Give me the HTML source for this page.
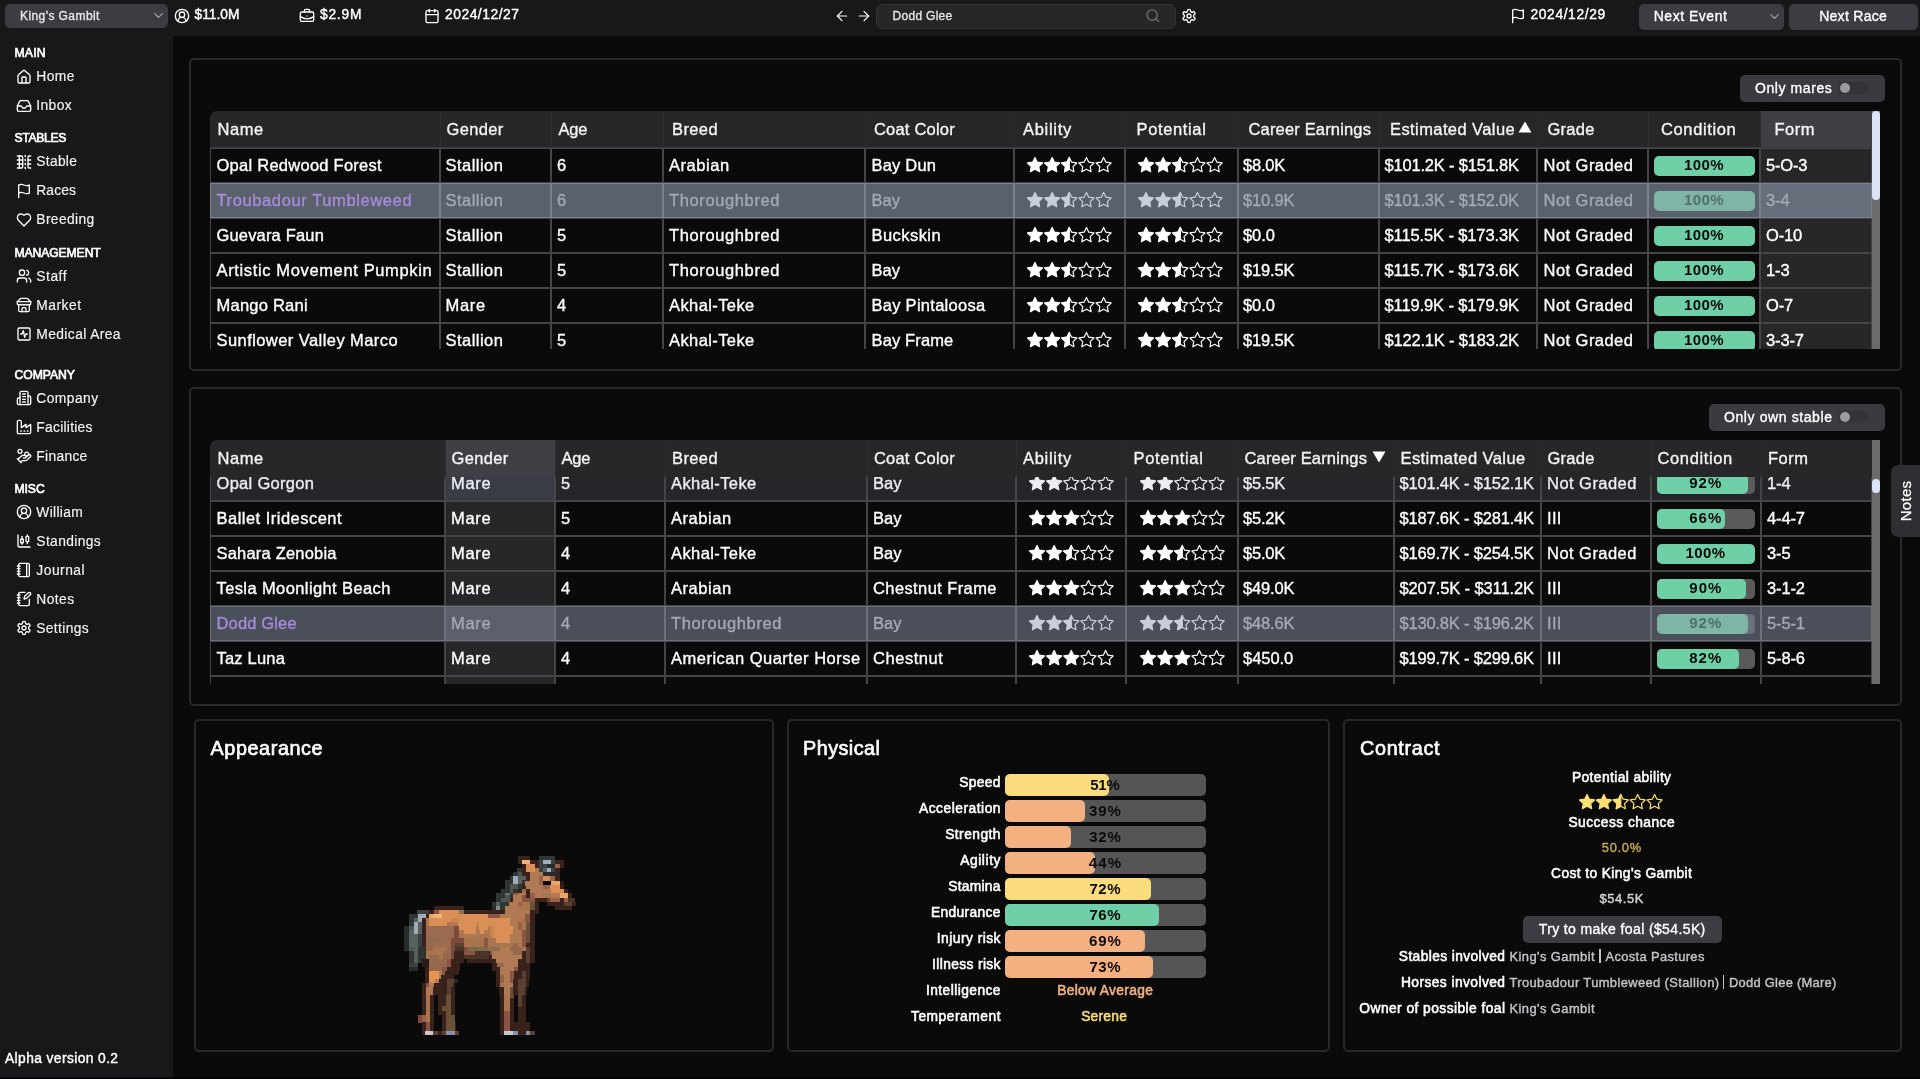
<!DOCTYPE html>
    <html><head><meta charset="utf-8"><title>Breeding</title>
    <style>
    html,body{margin:0;padding:0;background:#0a0a0a;}
    body{width:1920px;height:1079px;overflow:hidden;position:relative;font-family:"Liberation Sans",sans-serif;}
    .b{position:absolute;display:block;box-sizing:border-box;}
    .t{position:absolute;white-space:nowrap;}
    .clip{position:absolute;overflow:hidden;}
    .card{position:absolute;box-sizing:border-box;border:2px solid #28282b;border-radius:5px;}
    .c{position:absolute;box-sizing:border-box;border:1px solid #454548;}
    .cs{border-color:#79818e;}
    </style></head><body><div id="root" style="position:absolute;left:0;top:0;width:1920px;height:1079px;will-change:transform;filter:blur(0.35px)">
    
<div class="b" style="left:0px;top:0px;width:1920px;height:36px;background:#18181b;"></div>
<div class="b" style="left:0px;top:36px;width:173px;height:1043px;background:#18181b;"></div>
<div class="b" style="left:5px;top:4px;width:163px;height:24px;background:#3c3c43;border-radius:5px;"></div>
<div class="t " style="top:10px;font-size:12px;line-height:12px;color:#e8e8ea;letter-spacing:0.424px;-webkit-text-stroke:0.35px #e8e8ea;left:20px;">King&#x27;s Gambit</div>
<svg class="b" style="left:151px;top:8px" width="15" height="15" viewBox="0 0 24 24" fill="none" stroke="#a1a1aa" stroke-width="2" stroke-linecap="round" stroke-linejoin="round"><path d="m6 9 6 6 6-6"/></svg>
<svg class="b" style="left:173.5px;top:8px" width="16" height="16" viewBox="0 0 24 24" fill="none" stroke="#fff" stroke-width="2" stroke-linecap="round" stroke-linejoin="round"><path d="M18 20a6 6 0 0 0-12 0"/><circle cx="12" cy="10" r="4"/><circle cx="12" cy="12" r="10"/></svg>
<div class="t " style="top:8px;font-size:13.8px;line-height:13.8px;color:#fff;letter-spacing:0.001px;-webkit-text-stroke:0.4px #fff;left:194.5px;">$11.0M</div>
<svg class="b" style="left:299px;top:7.5px" width="16" height="16" viewBox="0 0 24 24" fill="none" stroke="#fff" stroke-width="2" stroke-linecap="round" stroke-linejoin="round"><path d="M12 12h.01"/><path d="M16 6V4a2 2 0 0 0-2-2h-4a2 2 0 0 0-2 2v2"/><path d="M22 13a18.150 18.150 0 0 1-20 0"/><rect width="20" height="14" x="2" y="6" rx="2"/></svg>
<div class="t " style="top:8px;font-size:13.8px;line-height:13.8px;color:#fff;letter-spacing:0.757px;-webkit-text-stroke:0.4px #fff;left:320px;">$2.9M</div>
<svg class="b" style="left:424px;top:8px" width="16" height="16" viewBox="0 0 24 24" fill="none" stroke="#fff" stroke-width="2" stroke-linecap="round" stroke-linejoin="round"><path d="M8 2v4"/><path d="M16 2v4"/><rect width="18" height="18" x="3" y="4" rx="2"/><path d="M3 10h18"/></svg>
<div class="t " style="top:8px;font-size:13.8px;line-height:13.8px;color:#fff;letter-spacing:0.54px;-webkit-text-stroke:0.4px #fff;left:445px;">2024/12/27</div>
<svg class="b" style="left:833.5px;top:8px" width="16" height="16" viewBox="0 0 24 24" fill="none" stroke="#fff" stroke-width="1.8" stroke-linecap="round" stroke-linejoin="round"><path d="m12 19-7-7 7-7"/><path d="M19 12H5"/></svg>
<svg class="b" style="left:855.5px;top:8px" width="16" height="16" viewBox="0 0 24 24" fill="none" stroke="#fff" stroke-width="1.8" stroke-linecap="round" stroke-linejoin="round"><path d="M5 12h14"/><path d="m12 5 7 7-7 7"/></svg>
<div class="b" style="left:876px;top:3.7px;width:300px;height:25px;background:#27272a;border-radius:6px;border:1px solid #323236;"></div>
<div class="t " style="top:10px;font-size:12px;line-height:12px;color:#e4e4e7;letter-spacing:0.299px;-webkit-text-stroke:0.35px #e4e4e7;left:892.5px;">Dodd Glee</div>
<svg class="b" style="left:1144.5px;top:7.5px" width="15.5" height="15.5" viewBox="0 0 24 24" fill="none" stroke="#71717a" stroke-width="2" stroke-linecap="round" stroke-linejoin="round"><circle cx="11" cy="11" r="8"/><path d="m21 21-4.300-4.300"/></svg>
<svg class="b" style="left:1181px;top:8px" width="16" height="16" viewBox="0 0 24 24" fill="none" stroke="#fff" stroke-width="2" stroke-linecap="round" stroke-linejoin="round"><path d="M12.220 2h-.440a2 2 0 0 0-2 2v.180a2 2 0 0 1-1 1.730l-.430.250a2 2 0 0 1-2 0l-.150-.080a2 2 0 0 0-2.730.730l-.220.380a2 2 0 0 0 .730 2.730l.150.100a2 2 0 0 1 1 1.720v.510a2 2 0 0 1-1 1.740l-.150.090a2 2 0 0 0-.730 2.730l.220.380a2 2 0 0 0 2.730.730l.150-.080a2 2 0 0 1 2 0l.430.250a2 2 0 0 1 1 1.730V20a2 2 0 0 0 2 2h.440a2 2 0 0 0 2-2v-.180a2 2 0 0 1 1-1.730l.430-.250a2 2 0 0 1 2 0l.150.080a2 2 0 0 0 2.730-.730l.220-.390a2 2 0 0 0-.730-2.730l-.150-.080a2 2 0 0 1-1-1.740v-.500a2 2 0 0 1 1-1.740l.150-.090a2 2 0 0 0 .730-2.730l-.220-.380a2 2 0 0 0-2.730-.730l-.150.080a2 2 0 0 1-2 0l-.430-.250a2 2 0 0 1-1-1.730V4a2 2 0 0 0-2-2z"/><circle cx="12" cy="12" r="3"/></svg>
<svg class="b" style="left:1510px;top:8px" width="16" height="16" viewBox="0 0 24 24" fill="none" stroke="#fff" stroke-width="2" stroke-linecap="round" stroke-linejoin="round"><path d="M4 15s1-1 4-1 5 2 8 2 4-1 4-1V3s-1 1-4 1-5-2-8-2-4 1-4 1z"/><line x1="4" x2="4" y1="22" y2="15"/></svg>
<div class="t " style="top:8px;font-size:13.8px;line-height:13.8px;color:#fff;letter-spacing:0.619px;-webkit-text-stroke:0.4px #fff;left:1530.5px;">2024/12/29</div>
<div class="b" style="left:1638.5px;top:3.5px;width:145px;height:26.5px;background:#3c3c43;border-radius:5px;"></div>
<div class="t " style="top:9px;font-size:14px;line-height:14px;color:#fff;letter-spacing:0.523px;-webkit-text-stroke:0.35px #fff;left:1653.7px;">Next Event</div>
<svg class="b" style="left:1766.5px;top:8.5px" width="15" height="15" viewBox="0 0 24 24" fill="none" stroke="#a1a1aa" stroke-width="2" stroke-linecap="round" stroke-linejoin="round"><path d="m6 9 6 6 6-6"/></svg>
<div class="b" style="left:1789px;top:3.5px;width:128.5px;height:26.5px;background:#3c3c43;border-radius:5px;"></div>
<div class="t " style="top:9px;font-size:14px;line-height:14px;color:#fff;letter-spacing:0.293px;-webkit-text-stroke:0.35px #fff;left:1453.15px;width:800px;text-align:center;">Next Race</div>
<div class="t " style="top:47px;font-size:12.2px;line-height:12.2px;color:#fff;letter-spacing:0.2px;-webkit-text-stroke:0.65px #fff;left:14.5px;">MAIN</div>
<svg class="b" style="left:15.85px;top:68.8px" width="16" height="16" viewBox="0 0 24 24" fill="none" stroke="#fff" stroke-width="2" stroke-linecap="round" stroke-linejoin="round"><path d="M15 21v-8a1 1 0 0 0-1-1h-4a1 1 0 0 0-1 1v8"/><path d="M3 10a2 2 0 0 1 .709-1.528l7-5.999a2 2 0 0 1 2.582 0l7 5.999A2 2 0 0 1 21 10v9a2 2 0 0 1-2 2H5a2 2 0 0 1-2-2z"/></svg>
<div class="t " style="top:70px;font-size:13.8px;line-height:13.8px;color:#f4f4f5;letter-spacing:0.43px;-webkit-text-stroke:0.15px #f4f4f5;left:36.3px;">Home</div>
<svg class="b" style="left:15.85px;top:97.8px" width="16" height="16" viewBox="0 0 24 24" fill="none" stroke="#fff" stroke-width="2" stroke-linecap="round" stroke-linejoin="round"><polyline points="22 12 16 12 14 15 10 15 8 12 2 12"/><path d="M5.45 5.11 2 12v6a2 2 0 0 0 2 2h16a2 2 0 0 0 2-2v-6l-3.45-6.89A2 2 0 0 0 16.76 4H7.24a2 2 0 0 0-1.79 1.11z"/></svg>
<div class="t " style="top:99px;font-size:13.8px;line-height:13.8px;color:#f4f4f5;letter-spacing:0.385px;-webkit-text-stroke:0.15px #f4f4f5;left:36.3px;">Inbox</div>
<div class="t " style="top:132px;font-size:12.2px;line-height:12.2px;color:#fff;letter-spacing:-0.34px;-webkit-text-stroke:0.65px #fff;left:14.5px;">STABLES</div>
<svg class="b" style="left:15.85px;top:153.8px" width="16" height="16" viewBox="0 0 24 24" fill="none" stroke="#fff" stroke-width="2" stroke-linecap="round" stroke-linejoin="round"><path d="M14 14v2"/><path d="M14 20v2"/><path d="M14 2v2"/><path d="M14 8v2"/><path d="M2 15h8"/><path d="M2 3h6a2 2 0 0 1 2 2v14a2 2 0 0 1-2 2H2"/><path d="M2 9h8"/><path d="M22 15h-4"/><path d="M22 3h-2a2 2 0 0 0-2 2v14a2 2 0 0 0 2 2h2"/><path d="M22 9h-4"/><path d="M5 3v18"/></svg>
<div class="t " style="top:155px;font-size:13.8px;line-height:13.8px;color:#f4f4f5;letter-spacing:0.292px;-webkit-text-stroke:0.15px #f4f4f5;left:36.3px;">Stable</div>
<svg class="b" style="left:15.85px;top:182.8px" width="16" height="16" viewBox="0 0 24 24" fill="none" stroke="#fff" stroke-width="2" stroke-linecap="round" stroke-linejoin="round"><path d="M4 15s1-1 4-1 5 2 8 2 4-1 4-1V3s-1 1-4 1-5-2-8-2-4 1-4 1z"/><line x1="4" x2="4" y1="22" y2="15"/></svg>
<div class="t " style="top:184px;font-size:13.8px;line-height:13.8px;color:#f4f4f5;letter-spacing:0.105px;-webkit-text-stroke:0.15px #f4f4f5;left:36.3px;">Races</div>
<svg class="b" style="left:15.85px;top:211.8px" width="16" height="16" viewBox="0 0 24 24" fill="none" stroke="#fff" stroke-width="2" stroke-linecap="round" stroke-linejoin="round"><path d="M19 14c1.49-1.46 3-3.21 3-5.5A5.5 5.5 0 0 0 16.5 3c-1.76 0-3 .5-4.5 2-1.5-1.500-2.740-2-4.500-2A5.500 5.500 0 0 0 2 8.500c0 2.300 1.500 4.050 3 5.500l7 7Z"/></svg>
<div class="t " style="top:213px;font-size:13.8px;line-height:13.8px;color:#f4f4f5;letter-spacing:0.382px;-webkit-text-stroke:0.15px #f4f4f5;left:36.3px;">Breeding</div>
<div class="t " style="top:247px;font-size:12.2px;line-height:12.2px;color:#fff;letter-spacing:-0.122px;-webkit-text-stroke:0.65px #fff;left:14.5px;">MANAGEMENT</div>
<svg class="b" style="left:15.85px;top:268.3px" width="16" height="16" viewBox="0 0 24 24" fill="none" stroke="#fff" stroke-width="2" stroke-linecap="round" stroke-linejoin="round"><path d="M16 21v-2a4 4 0 0 0-4-4H6a4 4 0 0 0-4 4v2"/><circle cx="9" cy="7" r="4"/><path d="M22 21v-2a4 4 0 0 0-3-3.870"/><path d="M16 3.130a4 4 0 0 1 0 7.750"/></svg>
<div class="t " style="top:270px;font-size:13.8px;line-height:13.8px;color:#f4f4f5;letter-spacing:0.525px;-webkit-text-stroke:0.15px #f4f4f5;left:36.3px;">Staff</div>
<svg class="b" style="left:15.85px;top:297.3px" width="16" height="16" viewBox="0 0 24 24" fill="none" stroke="#fff" stroke-width="2" stroke-linecap="round" stroke-linejoin="round"><path d="m2 7 4.410-4.410A2 2 0 0 1 7.830 2h8.340a2 2 0 0 1 1.420.590L22 7"/><path d="M4 12v8a2 2 0 0 0 2 2h12a2 2 0 0 0 2-2v-8"/><path d="M15 22v-4a2 2 0 0 0-2-2h-2a2 2 0 0 0-2 2v4"/><path d="M2 7h20"/><path d="M22 7v3a2 2 0 0 1-2 2a2.700 2.700 0 0 1-1.590-.630.700.700 0 0 0-.820 0A2.700 2.700 0 0 1 16 12a2.700 2.700 0 0 1-1.590-.630.700.700 0 0 0-.820 0A2.700 2.700 0 0 1 12 12a2.700 2.700 0 0 1-1.590-.630.700.700 0 0 0-.820 0A2.700 2.700 0 0 1 8 12a2.700 2.700 0 0 1-1.590-.630.700.700 0 0 0-.820 0A2.700 2.700 0 0 1 4 12a2 2 0 0 1-2-2V7"/></svg>
<div class="t " style="top:299px;font-size:13.8px;line-height:13.8px;color:#f4f4f5;letter-spacing:0.52px;-webkit-text-stroke:0.15px #f4f4f5;left:36.3px;">Market</div>
<svg class="b" style="left:15.85px;top:326.3px" width="16" height="16" viewBox="0 0 24 24" fill="none" stroke="#fff" stroke-width="2" stroke-linecap="round" stroke-linejoin="round"><rect width="18" height="18" x="3" y="3" rx="2"/><path d="M17 12h-2l-2 5-2-10-2 5H7"/></svg>
<div class="t " style="top:328px;font-size:13.8px;line-height:13.8px;color:#f4f4f5;letter-spacing:0.407px;-webkit-text-stroke:0.15px #f4f4f5;left:36.3px;">Medical Area</div>
<div class="t " style="top:369px;font-size:12.2px;line-height:12.2px;color:#fff;letter-spacing:-0.038px;-webkit-text-stroke:0.65px #fff;left:14.5px;">COMPANY</div>
<svg class="b" style="left:15.85px;top:390.3px" width="16" height="16" viewBox="0 0 24 24" fill="none" stroke="#fff" stroke-width="2" stroke-linecap="round" stroke-linejoin="round"><path d="M6 22V4a2 2 0 0 1 2-2h8a2 2 0 0 1 2 2v18Z"/><path d="M6 12H4a2 2 0 0 0-2 2v6a2 2 0 0 0 2 2h2"/><path d="M18 9h2a2 2 0 0 1 2 2v9a2 2 0 0 1-2 2h-2"/><path d="M10 6h4"/><path d="M10 10h4"/><path d="M10 14h4"/><path d="M10 18h4"/></svg>
<div class="t " style="top:392px;font-size:13.8px;line-height:13.8px;color:#f4f4f5;letter-spacing:0.459px;-webkit-text-stroke:0.15px #f4f4f5;left:36.3px;">Company</div>
<svg class="b" style="left:15.85px;top:419.3px" width="16" height="16" viewBox="0 0 24 24" fill="none" stroke="#fff" stroke-width="2" stroke-linecap="round" stroke-linejoin="round"><path d="M2 20a2 2 0 0 0 2 2h16a2 2 0 0 0 2-2V8l-7 5V8l-7 5V4a2 2 0 0 0-2-2H4a2 2 0 0 0-2 2Z"/><path d="M17 18h1"/><path d="M12 18h1"/><path d="M7 18h1"/></svg>
<div class="t " style="top:421px;font-size:13.8px;line-height:13.8px;color:#f4f4f5;letter-spacing:0.279px;-webkit-text-stroke:0.15px #f4f4f5;left:36.3px;">Facilities</div>
<svg class="b" style="left:15.85px;top:448.3px" width="16" height="16" viewBox="0 0 24 24" fill="none" stroke="#fff" stroke-width="2" stroke-linecap="round" stroke-linejoin="round"><path d="M11 15h2a2 2 0 1 0 0-4h-3c-.600 0-1.100.200-1.400.600L3 17"/><path d="m7 21 1.600-1.400c.300-.400.800-.600 1.400-.600h4c1.100 0 2.100-.400 2.800-1.200l4.600-4.400a2 2 0 0 0-2.750-2.910l-4.200 3.900"/><path d="m2 16 6 6"/><circle cx="16" cy="9" r="2.900"/><circle cx="6" cy="5" r="3"/></svg>
<div class="t " style="top:450px;font-size:13.8px;line-height:13.8px;color:#f4f4f5;letter-spacing:0.315px;-webkit-text-stroke:0.15px #f4f4f5;left:36.3px;">Finance</div>
<div class="t " style="top:483px;font-size:12.2px;line-height:12.2px;color:#fff;letter-spacing:-0.09px;-webkit-text-stroke:0.65px #fff;left:14.5px;">MISC</div>
<svg class="b" style="left:15.85px;top:504.3px" width="16" height="16" viewBox="0 0 24 24" fill="none" stroke="#fff" stroke-width="2" stroke-linecap="round" stroke-linejoin="round"><path d="M18 20a6 6 0 0 0-12 0"/><circle cx="12" cy="10" r="4"/><circle cx="12" cy="12" r="10"/></svg>
<div class="t " style="top:506px;font-size:13.8px;line-height:13.8px;color:#f4f4f5;letter-spacing:0.312px;-webkit-text-stroke:0.15px #f4f4f5;left:36.3px;">William</div>
<svg class="b" style="left:15.85px;top:533.3px" width="16" height="16" viewBox="0 0 24 24" fill="none" stroke="#fff" stroke-width="2" stroke-linecap="round" stroke-linejoin="round"><path d="M9 5v4"/><rect width="4" height="6" x="7" y="9" rx="1"/><path d="M9 15v2"/><path d="M17 3v2"/><rect width="4" height="8" x="15" y="5" rx="1"/><path d="M17 13v3"/><path d="M3 3v16a2 2 0 0 0 2 2h16"/></svg>
<div class="t " style="top:535px;font-size:13.8px;line-height:13.8px;color:#f4f4f5;letter-spacing:0.381px;-webkit-text-stroke:0.15px #f4f4f5;left:36.3px;">Standings</div>
<svg class="b" style="left:15.85px;top:562.3px" width="16" height="16" viewBox="0 0 24 24" fill="none" stroke="#fff" stroke-width="2" stroke-linecap="round" stroke-linejoin="round"><path d="M2 6h4"/><path d="M2 10h4"/><path d="M2 14h4"/><path d="M2 18h4"/><rect width="16" height="20" x="4" y="2" rx="2"/><path d="M16 2v20"/></svg>
<div class="t " style="top:564px;font-size:13.8px;line-height:13.8px;color:#f4f4f5;letter-spacing:0.506px;-webkit-text-stroke:0.15px #f4f4f5;left:36.3px;">Journal</div>
<svg class="b" style="left:15.85px;top:591.3px" width="16" height="16" viewBox="0 0 24 24" fill="none" stroke="#fff" stroke-width="2" stroke-linecap="round" stroke-linejoin="round"><path d="M13.400 2H6a2 2 0 0 0-2 2v16a2 2 0 0 0 2 2h12a2 2 0 0 0 2-2v-7.400"/><path d="M2 6h4"/><path d="M2 10h4"/><path d="M2 14h4"/><path d="M2 18h4"/><path d="M21.378 5.626a1 1 0 1 0-3.004-3.004l-5.010 5.012a2 2 0 0 0-.506.854l-.837 2.870a.500.500 0 0 0 .620.620l2.870-.837a2 2 0 0 0 .854-.506z"/></svg>
<div class="t " style="top:593px;font-size:13.8px;line-height:13.8px;color:#f4f4f5;letter-spacing:0.44px;-webkit-text-stroke:0.15px #f4f4f5;left:36.3px;">Notes</div>
<svg class="b" style="left:15.85px;top:620.3px" width="16" height="16" viewBox="0 0 24 24" fill="none" stroke="#fff" stroke-width="2" stroke-linecap="round" stroke-linejoin="round"><path d="M12.220 2h-.440a2 2 0 0 0-2 2v.180a2 2 0 0 1-1 1.730l-.430.250a2 2 0 0 1-2 0l-.150-.080a2 2 0 0 0-2.730.730l-.220.380a2 2 0 0 0 .730 2.730l.150.100a2 2 0 0 1 1 1.720v.510a2 2 0 0 1-1 1.740l-.150.090a2 2 0 0 0-.730 2.730l.220.380a2 2 0 0 0 2.730.730l.150-.080a2 2 0 0 1 2 0l.430.250a2 2 0 0 1 1 1.730V20a2 2 0 0 0 2 2h.440a2 2 0 0 0 2-2v-.180a2 2 0 0 1 1-1.730l.430-.250a2 2 0 0 1 2 0l.150.080a2 2 0 0 0 2.730-.730l.220-.390a2 2 0 0 0-.730-2.730l-.150-.080a2 2 0 0 1-1-1.740v-.500a2 2 0 0 1 1-1.740l.150-.090a2 2 0 0 0 .730-2.730l-.220-.380a2 2 0 0 0-2.730-.730l-.150.080a2 2 0 0 1-2 0l-.430-.250a2 2 0 0 1-1-1.730V4a2 2 0 0 0-2-2z"/><circle cx="12" cy="12" r="3"/></svg>
<div class="t " style="top:622px;font-size:13.8px;line-height:13.8px;color:#f4f4f5;letter-spacing:0.349px;-webkit-text-stroke:0.15px #f4f4f5;left:36.3px;">Settings</div>
<div class="t " style="top:1052px;font-size:13.8px;line-height:13.8px;color:#fff;letter-spacing:0.402px;-webkit-text-stroke:0.4px #fff;left:5px;">Alpha version 0.2</div>
<div class="card" style="left:189px;top:58px;width:1713px;height:313px"></div>
<div class="card" style="left:189px;top:387px;width:1713px;height:319px"></div>
<div class="card" style="left:194px;top:719px;width:580px;height:333px"></div>
<div class="card" style="left:787px;top:719px;width:543px;height:333px"></div>
<div class="card" style="left:1343px;top:719px;width:559px;height:333px"></div>
<div class="b" style="left:1739.5px;top:74.5px;width:145.5px;height:27px;background:#3a3a40;border-radius:5px;"></div><div class="t " style="top:81px;font-size:14px;line-height:14px;color:#fff;letter-spacing:0.578px;-webkit-text-stroke:0.35px #fff;left:1755px;">Only mares</div><div class="b" style="left:1838.0px;top:81.5px;width:29.5px;height:12.5px;background:#333338;border-radius:6.5px;"></div><div class="b" style="left:1840.0px;top:82.7px;width:10.2px;height:10.2px;background:#9b9b9b;border-radius:5.1px;"></div>
<div class="b" style="left:1708.5px;top:403.5px;width:176.5px;height:27px;background:#3a3a40;border-radius:5px;"></div><div class="t " style="top:410px;font-size:14px;line-height:14px;color:#fff;letter-spacing:0.599px;-webkit-text-stroke:0.35px #fff;left:1724px;">Only own stable</div><div class="b" style="left:1838.0px;top:410.5px;width:29.5px;height:12.5px;background:#333338;border-radius:6.5px;"></div><div class="b" style="left:1840.0px;top:411.7px;width:10.2px;height:10.2px;background:#9b9b9b;border-radius:5.1px;"></div>
<div class="clip" style="left:210px;top:111px;width:1662px;height:237.5px"><div class="c" style="left:0px;top:37px;width:230px;height:35px;background:#0a0a0a"></div><div class="c" style="left:230px;top:37px;width:111px;height:35px;background:#0a0a0a"></div><div class="c" style="left:341px;top:37px;width:112px;height:35px;background:#0a0a0a"></div><div class="c" style="left:453px;top:37px;width:202px;height:35px;background:#0a0a0a"></div><div class="c" style="left:655px;top:37px;width:149px;height:35px;background:#0a0a0a"></div><div class="c" style="left:804px;top:37px;width:111px;height:35px;background:#0a0a0a"></div><div class="c" style="left:915px;top:37px;width:113px;height:35px;background:#0a0a0a"></div><div class="c" style="left:1028px;top:37px;width:141px;height:35px;background:#0a0a0a"></div><div class="c" style="left:1169px;top:37px;width:158px;height:35px;background:#0a0a0a"></div><div class="c" style="left:1327px;top:37px;width:111px;height:35px;background:#0a0a0a"></div><div class="c" style="left:1438px;top:37px;width:112px;height:35px;background:#0a0a0a"></div><div class="c" style="left:1550px;top:37px;width:112px;height:35px;background:#27272a"></div><div class="t " style="top:46px;font-size:16.5px;line-height:16.5px;color:#fff;letter-spacing:0.258px;-webkit-text-stroke:0.35px #fff;left:6.5px;">Opal Redwood Forest</div><div class="t " style="top:46px;font-size:16.5px;line-height:16.5px;color:#fff;letter-spacing:0.464px;-webkit-text-stroke:0.35px #fff;left:235.5px;">Stallion</div><div class="t " style="top:46px;font-size:16.5px;line-height:16.5px;color:#fff;letter-spacing:-0.01px;-webkit-text-stroke:0.35px #fff;left:347px;">6</div><div class="t " style="top:46px;font-size:16.5px;line-height:16.5px;color:#fff;letter-spacing:0.554px;-webkit-text-stroke:0.35px #fff;left:459px;">Arabian</div><div class="t " style="top:46px;font-size:16.5px;line-height:16.5px;color:#fff;letter-spacing:0.206px;-webkit-text-stroke:0.35px #fff;left:661.5px;">Bay Dun</div><svg class="b" style="left:816.0px;top:45.400000000000006px" width="86.60" height="18" viewBox="0 0 115.467 24" fill="none" stroke="#fff" stroke-width="1.6" stroke-linejoin="round"><polygon transform="translate(0.00,0)" points="12 2 15.09 8.26 22 9.27 17 14.14 18.18 21.02 12 17.77 5.82 21.02 7 14.14 2 9.27 8.91 8.26" fill="#fff"/><polygon transform="translate(22.87,0)" points="12 2 15.09 8.26 22 9.27 17 14.14 18.18 21.02 12 17.77 5.82 21.02 7 14.14 2 9.27 8.91 8.26" fill="#fff"/><polygon transform="translate(45.73,0)" points="12 2 15.09 8.26 22 9.27 17 14.14 18.18 21.02 12 17.77 5.82 21.02 7 14.14 2 9.27 8.91 8.26"/><polygon transform="translate(45.73,0)" points="12 2 12 17.77 5.82 21.02 7 14.14 2 9.27 8.91 8.26" fill="#fff"/><polygon transform="translate(68.60,0)" points="12 2 15.09 8.26 22 9.27 17 14.14 18.18 21.02 12 17.77 5.82 21.02 7 14.14 2 9.27 8.91 8.26"/><polygon transform="translate(91.47,0)" points="12 2 15.09 8.26 22 9.27 17 14.14 18.18 21.02 12 17.77 5.82 21.02 7 14.14 2 9.27 8.91 8.26"/></svg><svg class="b" style="left:927.2px;top:45.400000000000006px" width="86.60" height="18" viewBox="0 0 115.467 24" fill="none" stroke="#fff" stroke-width="1.6" stroke-linejoin="round"><polygon transform="translate(0.00,0)" points="12 2 15.09 8.26 22 9.27 17 14.14 18.18 21.02 12 17.77 5.82 21.02 7 14.14 2 9.27 8.91 8.26" fill="#fff"/><polygon transform="translate(22.87,0)" points="12 2 15.09 8.26 22 9.27 17 14.14 18.18 21.02 12 17.77 5.82 21.02 7 14.14 2 9.27 8.91 8.26" fill="#fff"/><polygon transform="translate(45.73,0)" points="12 2 15.09 8.26 22 9.27 17 14.14 18.18 21.02 12 17.77 5.82 21.02 7 14.14 2 9.27 8.91 8.26"/><polygon transform="translate(45.73,0)" points="12 2 12 17.77 5.82 21.02 7 14.14 2 9.27 8.91 8.26" fill="#fff"/><polygon transform="translate(68.60,0)" points="12 2 15.09 8.26 22 9.27 17 14.14 18.18 21.02 12 17.77 5.82 21.02 7 14.14 2 9.27 8.91 8.26"/><polygon transform="translate(91.47,0)" points="12 2 15.09 8.26 22 9.27 17 14.14 18.18 21.02 12 17.77 5.82 21.02 7 14.14 2 9.27 8.91 8.26"/></svg><div class="t " style="top:46px;font-size:16.5px;line-height:16.5px;color:#fff;letter-spacing:-0.2px;-webkit-text-stroke:0.35px #fff;left:1033px;">$8.0K</div><div class="t " style="top:46px;font-size:16.5px;line-height:16.5px;color:#fff;letter-spacing:-0.189px;-webkit-text-stroke:0.35px #fff;left:1174.5px;">$101.2K - $151.8K</div><div class="t " style="top:46px;font-size:16.5px;line-height:16.5px;color:#fff;letter-spacing:0.46px;-webkit-text-stroke:0.35px #fff;left:1333.5px;">Not Graded</div><div class="b" style="left:1444px;top:45px;width:101px;height:19.5px;background:#6fcfa6;border-radius:5px;"></div><div class="t " style="top:46px;font-size:15px;line-height:15px;color:#0a0a0a;font-weight:bold;letter-spacing:0.365px;left:1093.98px;width:800px;text-align:center;">100%</div><div class="t " style="top:46px;font-size:16.5px;line-height:16.5px;color:#fff;letter-spacing:-0.182px;-webkit-text-stroke:0.35px #fff;left:1556px;">5-O-3</div><div class="c" style="left:0px;top:72px;width:230px;height:35px;background:#5a616d;border-color:#7b828e"></div><div class="c" style="left:230px;top:72px;width:111px;height:35px;background:#5a616d;border-color:#7b828e"></div><div class="c" style="left:341px;top:72px;width:112px;height:35px;background:#5a616d;border-color:#7b828e"></div><div class="c" style="left:453px;top:72px;width:202px;height:35px;background:#5a616d;border-color:#7b828e"></div><div class="c" style="left:655px;top:72px;width:149px;height:35px;background:#5a616d;border-color:#7b828e"></div><div class="c" style="left:804px;top:72px;width:111px;height:35px;background:#5a616d;border-color:#7b828e"></div><div class="c" style="left:915px;top:72px;width:113px;height:35px;background:#5a616d;border-color:#7b828e"></div><div class="c" style="left:1028px;top:72px;width:141px;height:35px;background:#5a616d;border-color:#7b828e"></div><div class="c" style="left:1169px;top:72px;width:158px;height:35px;background:#5a616d;border-color:#7b828e"></div><div class="c" style="left:1327px;top:72px;width:111px;height:35px;background:#5a616d;border-color:#7b828e"></div><div class="c" style="left:1438px;top:72px;width:112px;height:35px;background:#5a616d;border-color:#7b828e"></div><div class="c" style="left:1550px;top:72px;width:112px;height:35px;background:#676e7b;border-color:#7b828e"></div><div class="t " style="top:81px;font-size:16.5px;line-height:16.5px;color:#a78bda;letter-spacing:0.613px;-webkit-text-stroke:0.35px #a78bda;left:6.5px;">Troubadour Tumbleweed</div><div class="t " style="top:81px;font-size:16.5px;line-height:16.5px;color:#a4a9b4;letter-spacing:0.464px;-webkit-text-stroke:0.35px #a4a9b4;left:235.5px;">Stallion</div><div class="t " style="top:81px;font-size:16.5px;line-height:16.5px;color:#a4a9b4;letter-spacing:-0.01px;-webkit-text-stroke:0.35px #a4a9b4;left:347px;">6</div><div class="t " style="top:81px;font-size:16.5px;line-height:16.5px;color:#a4a9b4;letter-spacing:0.62px;-webkit-text-stroke:0.35px #a4a9b4;left:459px;">Thoroughbred</div><div class="t " style="top:81px;font-size:16.5px;line-height:16.5px;color:#a4a9b4;letter-spacing:0.005px;-webkit-text-stroke:0.35px #a4a9b4;left:661.5px;">Bay</div><svg class="b" style="left:816.0px;top:80.4px" width="86.60" height="18" viewBox="0 0 115.467 24" fill="none" stroke="#c9ced8" stroke-width="1.6" stroke-linejoin="round"><polygon transform="translate(0.00,0)" points="12 2 15.09 8.26 22 9.27 17 14.14 18.18 21.02 12 17.77 5.82 21.02 7 14.14 2 9.27 8.91 8.26" fill="#c9ced8"/><polygon transform="translate(22.87,0)" points="12 2 15.09 8.26 22 9.27 17 14.14 18.18 21.02 12 17.77 5.82 21.02 7 14.14 2 9.27 8.91 8.26" fill="#c9ced8"/><polygon transform="translate(45.73,0)" points="12 2 15.09 8.26 22 9.27 17 14.14 18.18 21.02 12 17.77 5.82 21.02 7 14.14 2 9.27 8.91 8.26"/><polygon transform="translate(45.73,0)" points="12 2 12 17.77 5.82 21.02 7 14.14 2 9.27 8.91 8.26" fill="#c9ced8"/><polygon transform="translate(68.60,0)" points="12 2 15.09 8.26 22 9.27 17 14.14 18.18 21.02 12 17.77 5.82 21.02 7 14.14 2 9.27 8.91 8.26"/><polygon transform="translate(91.47,0)" points="12 2 15.09 8.26 22 9.27 17 14.14 18.18 21.02 12 17.77 5.82 21.02 7 14.14 2 9.27 8.91 8.26"/></svg><svg class="b" style="left:927.2px;top:80.4px" width="86.60" height="18" viewBox="0 0 115.467 24" fill="none" stroke="#c9ced8" stroke-width="1.6" stroke-linejoin="round"><polygon transform="translate(0.00,0)" points="12 2 15.09 8.26 22 9.27 17 14.14 18.18 21.02 12 17.77 5.82 21.02 7 14.14 2 9.27 8.91 8.26" fill="#c9ced8"/><polygon transform="translate(22.87,0)" points="12 2 15.09 8.26 22 9.27 17 14.14 18.18 21.02 12 17.77 5.82 21.02 7 14.14 2 9.27 8.91 8.26" fill="#c9ced8"/><polygon transform="translate(45.73,0)" points="12 2 15.09 8.26 22 9.27 17 14.14 18.18 21.02 12 17.77 5.82 21.02 7 14.14 2 9.27 8.91 8.26"/><polygon transform="translate(45.73,0)" points="12 2 12 17.77 5.82 21.02 7 14.14 2 9.27 8.91 8.26" fill="#c9ced8"/><polygon transform="translate(68.60,0)" points="12 2 15.09 8.26 22 9.27 17 14.14 18.18 21.02 12 17.77 5.82 21.02 7 14.14 2 9.27 8.91 8.26"/><polygon transform="translate(91.47,0)" points="12 2 15.09 8.26 22 9.27 17 14.14 18.18 21.02 12 17.77 5.82 21.02 7 14.14 2 9.27 8.91 8.26"/></svg><div class="t " style="top:81px;font-size:16.5px;line-height:16.5px;color:#a4a9b4;letter-spacing:-0.168px;-webkit-text-stroke:0.35px #a4a9b4;left:1033px;">$10.9K</div><div class="t " style="top:81px;font-size:16.5px;line-height:16.5px;color:#a4a9b4;letter-spacing:-0.189px;-webkit-text-stroke:0.35px #a4a9b4;left:1174.5px;">$101.3K - $152.0K</div><div class="t " style="top:81px;font-size:16.5px;line-height:16.5px;color:#a4a9b4;letter-spacing:0.46px;-webkit-text-stroke:0.35px #a4a9b4;left:1333.5px;">Not Graded</div><div class="b" style="left:1444px;top:80px;width:101px;height:19.5px;background:#7fb5a6;border-radius:5px;"></div><div class="t " style="top:81px;font-size:15px;line-height:15px;color:#4f6f6c;font-weight:bold;letter-spacing:0.365px;left:1093.98px;width:800px;text-align:center;">100%</div><div class="t " style="top:81px;font-size:16.5px;line-height:16.5px;color:#a4a9b4;letter-spacing:-0.119px;-webkit-text-stroke:0.35px #a4a9b4;left:1556px;">3-4</div><div class="c" style="left:0px;top:107px;width:230px;height:35px;background:#0a0a0a"></div><div class="c" style="left:230px;top:107px;width:111px;height:35px;background:#0a0a0a"></div><div class="c" style="left:341px;top:107px;width:112px;height:35px;background:#0a0a0a"></div><div class="c" style="left:453px;top:107px;width:202px;height:35px;background:#0a0a0a"></div><div class="c" style="left:655px;top:107px;width:149px;height:35px;background:#0a0a0a"></div><div class="c" style="left:804px;top:107px;width:111px;height:35px;background:#0a0a0a"></div><div class="c" style="left:915px;top:107px;width:113px;height:35px;background:#0a0a0a"></div><div class="c" style="left:1028px;top:107px;width:141px;height:35px;background:#0a0a0a"></div><div class="c" style="left:1169px;top:107px;width:158px;height:35px;background:#0a0a0a"></div><div class="c" style="left:1327px;top:107px;width:111px;height:35px;background:#0a0a0a"></div><div class="c" style="left:1438px;top:107px;width:112px;height:35px;background:#0a0a0a"></div><div class="c" style="left:1550px;top:107px;width:112px;height:35px;background:#27272a"></div><div class="t " style="top:116px;font-size:16.5px;line-height:16.5px;color:#fff;letter-spacing:0.169px;-webkit-text-stroke:0.35px #fff;left:6.5px;">Guevara Faun</div><div class="t " style="top:116px;font-size:16.5px;line-height:16.5px;color:#fff;letter-spacing:0.464px;-webkit-text-stroke:0.35px #fff;left:235.5px;">Stallion</div><div class="t " style="top:116px;font-size:16.5px;line-height:16.5px;color:#fff;letter-spacing:-0.01px;-webkit-text-stroke:0.35px #fff;left:347px;">5</div><div class="t " style="top:116px;font-size:16.5px;line-height:16.5px;color:#fff;letter-spacing:0.62px;-webkit-text-stroke:0.35px #fff;left:459px;">Thoroughbred</div><div class="t " style="top:116px;font-size:16.5px;line-height:16.5px;color:#fff;letter-spacing:0.439px;-webkit-text-stroke:0.35px #fff;left:661.5px;">Buckskin</div><svg class="b" style="left:816.0px;top:115.4px" width="86.60" height="18" viewBox="0 0 115.467 24" fill="none" stroke="#fff" stroke-width="1.6" stroke-linejoin="round"><polygon transform="translate(0.00,0)" points="12 2 15.09 8.26 22 9.27 17 14.14 18.18 21.02 12 17.77 5.82 21.02 7 14.14 2 9.27 8.91 8.26" fill="#fff"/><polygon transform="translate(22.87,0)" points="12 2 15.09 8.26 22 9.27 17 14.14 18.18 21.02 12 17.77 5.82 21.02 7 14.14 2 9.27 8.91 8.26" fill="#fff"/><polygon transform="translate(45.73,0)" points="12 2 15.09 8.26 22 9.27 17 14.14 18.18 21.02 12 17.77 5.82 21.02 7 14.14 2 9.27 8.91 8.26"/><polygon transform="translate(45.73,0)" points="12 2 12 17.77 5.82 21.02 7 14.14 2 9.27 8.91 8.26" fill="#fff"/><polygon transform="translate(68.60,0)" points="12 2 15.09 8.26 22 9.27 17 14.14 18.18 21.02 12 17.77 5.82 21.02 7 14.14 2 9.27 8.91 8.26"/><polygon transform="translate(91.47,0)" points="12 2 15.09 8.26 22 9.27 17 14.14 18.18 21.02 12 17.77 5.82 21.02 7 14.14 2 9.27 8.91 8.26"/></svg><svg class="b" style="left:927.2px;top:115.4px" width="86.60" height="18" viewBox="0 0 115.467 24" fill="none" stroke="#fff" stroke-width="1.6" stroke-linejoin="round"><polygon transform="translate(0.00,0)" points="12 2 15.09 8.26 22 9.27 17 14.14 18.18 21.02 12 17.77 5.82 21.02 7 14.14 2 9.27 8.91 8.26" fill="#fff"/><polygon transform="translate(22.87,0)" points="12 2 15.09 8.26 22 9.27 17 14.14 18.18 21.02 12 17.77 5.82 21.02 7 14.14 2 9.27 8.91 8.26" fill="#fff"/><polygon transform="translate(45.73,0)" points="12 2 15.09 8.26 22 9.27 17 14.14 18.18 21.02 12 17.77 5.82 21.02 7 14.14 2 9.27 8.91 8.26"/><polygon transform="translate(45.73,0)" points="12 2 12 17.77 5.82 21.02 7 14.14 2 9.27 8.91 8.26" fill="#fff"/><polygon transform="translate(68.60,0)" points="12 2 15.09 8.26 22 9.27 17 14.14 18.18 21.02 12 17.77 5.82 21.02 7 14.14 2 9.27 8.91 8.26"/><polygon transform="translate(91.47,0)" points="12 2 15.09 8.26 22 9.27 17 14.14 18.18 21.02 12 17.77 5.82 21.02 7 14.14 2 9.27 8.91 8.26"/></svg><div class="t " style="top:116px;font-size:16.5px;line-height:16.5px;color:#fff;letter-spacing:-0.056px;-webkit-text-stroke:0.35px #fff;left:1033px;">$0.0</div><div class="t " style="top:116px;font-size:16.5px;line-height:16.5px;color:#fff;letter-spacing:-0.117px;-webkit-text-stroke:0.35px #fff;left:1174.5px;">$115.5K - $173.3K</div><div class="t " style="top:116px;font-size:16.5px;line-height:16.5px;color:#fff;letter-spacing:0.46px;-webkit-text-stroke:0.35px #fff;left:1333.5px;">Not Graded</div><div class="b" style="left:1444px;top:115px;width:101px;height:19.5px;background:#6fcfa6;border-radius:5px;"></div><div class="t " style="top:116px;font-size:15px;line-height:15px;color:#0a0a0a;font-weight:bold;letter-spacing:0.365px;left:1093.98px;width:800px;text-align:center;">100%</div><div class="t " style="top:116px;font-size:16.5px;line-height:16.5px;color:#fff;letter-spacing:-0.143px;-webkit-text-stroke:0.35px #fff;left:1556px;">O-10</div><div class="c" style="left:0px;top:142px;width:230px;height:35px;background:#0a0a0a"></div><div class="c" style="left:230px;top:142px;width:111px;height:35px;background:#0a0a0a"></div><div class="c" style="left:341px;top:142px;width:112px;height:35px;background:#0a0a0a"></div><div class="c" style="left:453px;top:142px;width:202px;height:35px;background:#0a0a0a"></div><div class="c" style="left:655px;top:142px;width:149px;height:35px;background:#0a0a0a"></div><div class="c" style="left:804px;top:142px;width:111px;height:35px;background:#0a0a0a"></div><div class="c" style="left:915px;top:142px;width:113px;height:35px;background:#0a0a0a"></div><div class="c" style="left:1028px;top:142px;width:141px;height:35px;background:#0a0a0a"></div><div class="c" style="left:1169px;top:142px;width:158px;height:35px;background:#0a0a0a"></div><div class="c" style="left:1327px;top:142px;width:111px;height:35px;background:#0a0a0a"></div><div class="c" style="left:1438px;top:142px;width:112px;height:35px;background:#0a0a0a"></div><div class="c" style="left:1550px;top:142px;width:112px;height:35px;background:#27272a"></div><div class="t " style="top:151px;font-size:16.5px;line-height:16.5px;color:#fff;letter-spacing:0.636px;-webkit-text-stroke:0.35px #fff;left:6.5px;">Artistic Movement Pumpkin</div><div class="t " style="top:151px;font-size:16.5px;line-height:16.5px;color:#fff;letter-spacing:0.464px;-webkit-text-stroke:0.35px #fff;left:235.5px;">Stallion</div><div class="t " style="top:151px;font-size:16.5px;line-height:16.5px;color:#fff;letter-spacing:-0.01px;-webkit-text-stroke:0.35px #fff;left:347px;">5</div><div class="t " style="top:151px;font-size:16.5px;line-height:16.5px;color:#fff;letter-spacing:0.62px;-webkit-text-stroke:0.35px #fff;left:459px;">Thoroughbred</div><div class="t " style="top:151px;font-size:16.5px;line-height:16.5px;color:#fff;letter-spacing:0.005px;-webkit-text-stroke:0.35px #fff;left:661.5px;">Bay</div><svg class="b" style="left:816.0px;top:150.39999999999998px" width="86.60" height="18" viewBox="0 0 115.467 24" fill="none" stroke="#fff" stroke-width="1.6" stroke-linejoin="round"><polygon transform="translate(0.00,0)" points="12 2 15.09 8.26 22 9.27 17 14.14 18.18 21.02 12 17.77 5.82 21.02 7 14.14 2 9.27 8.91 8.26" fill="#fff"/><polygon transform="translate(22.87,0)" points="12 2 15.09 8.26 22 9.27 17 14.14 18.18 21.02 12 17.77 5.82 21.02 7 14.14 2 9.27 8.91 8.26" fill="#fff"/><polygon transform="translate(45.73,0)" points="12 2 15.09 8.26 22 9.27 17 14.14 18.18 21.02 12 17.77 5.82 21.02 7 14.14 2 9.27 8.91 8.26"/><polygon transform="translate(45.73,0)" points="12 2 12 17.77 5.82 21.02 7 14.14 2 9.27 8.91 8.26" fill="#fff"/><polygon transform="translate(68.60,0)" points="12 2 15.09 8.26 22 9.27 17 14.14 18.18 21.02 12 17.77 5.82 21.02 7 14.14 2 9.27 8.91 8.26"/><polygon transform="translate(91.47,0)" points="12 2 15.09 8.26 22 9.27 17 14.14 18.18 21.02 12 17.77 5.82 21.02 7 14.14 2 9.27 8.91 8.26"/></svg><svg class="b" style="left:927.2px;top:150.39999999999998px" width="86.60" height="18" viewBox="0 0 115.467 24" fill="none" stroke="#fff" stroke-width="1.6" stroke-linejoin="round"><polygon transform="translate(0.00,0)" points="12 2 15.09 8.26 22 9.27 17 14.14 18.18 21.02 12 17.77 5.82 21.02 7 14.14 2 9.27 8.91 8.26" fill="#fff"/><polygon transform="translate(22.87,0)" points="12 2 15.09 8.26 22 9.27 17 14.14 18.18 21.02 12 17.77 5.82 21.02 7 14.14 2 9.27 8.91 8.26" fill="#fff"/><polygon transform="translate(45.73,0)" points="12 2 15.09 8.26 22 9.27 17 14.14 18.18 21.02 12 17.77 5.82 21.02 7 14.14 2 9.27 8.91 8.26"/><polygon transform="translate(45.73,0)" points="12 2 12 17.77 5.82 21.02 7 14.14 2 9.27 8.91 8.26" fill="#fff"/><polygon transform="translate(68.60,0)" points="12 2 15.09 8.26 22 9.27 17 14.14 18.18 21.02 12 17.77 5.82 21.02 7 14.14 2 9.27 8.91 8.26"/><polygon transform="translate(91.47,0)" points="12 2 15.09 8.26 22 9.27 17 14.14 18.18 21.02 12 17.77 5.82 21.02 7 14.14 2 9.27 8.91 8.26"/></svg><div class="t " style="top:151px;font-size:16.5px;line-height:16.5px;color:#fff;letter-spacing:-0.168px;-webkit-text-stroke:0.35px #fff;left:1033px;">$19.5K</div><div class="t " style="top:151px;font-size:16.5px;line-height:16.5px;color:#fff;letter-spacing:-0.117px;-webkit-text-stroke:0.35px #fff;left:1174.5px;">$115.7K - $173.6K</div><div class="t " style="top:151px;font-size:16.5px;line-height:16.5px;color:#fff;letter-spacing:0.46px;-webkit-text-stroke:0.35px #fff;left:1333.5px;">Not Graded</div><div class="b" style="left:1444px;top:150px;width:101px;height:19.5px;background:#6fcfa6;border-radius:5px;"></div><div class="t " style="top:151px;font-size:15px;line-height:15px;color:#0a0a0a;font-weight:bold;letter-spacing:0.365px;left:1093.98px;width:800px;text-align:center;">100%</div><div class="t " style="top:151px;font-size:16.5px;line-height:16.5px;color:#fff;letter-spacing:-0.119px;-webkit-text-stroke:0.35px #fff;left:1556px;">1-3</div><div class="c" style="left:0px;top:177px;width:230px;height:35px;background:#0a0a0a"></div><div class="c" style="left:230px;top:177px;width:111px;height:35px;background:#0a0a0a"></div><div class="c" style="left:341px;top:177px;width:112px;height:35px;background:#0a0a0a"></div><div class="c" style="left:453px;top:177px;width:202px;height:35px;background:#0a0a0a"></div><div class="c" style="left:655px;top:177px;width:149px;height:35px;background:#0a0a0a"></div><div class="c" style="left:804px;top:177px;width:111px;height:35px;background:#0a0a0a"></div><div class="c" style="left:915px;top:177px;width:113px;height:35px;background:#0a0a0a"></div><div class="c" style="left:1028px;top:177px;width:141px;height:35px;background:#0a0a0a"></div><div class="c" style="left:1169px;top:177px;width:158px;height:35px;background:#0a0a0a"></div><div class="c" style="left:1327px;top:177px;width:111px;height:35px;background:#0a0a0a"></div><div class="c" style="left:1438px;top:177px;width:112px;height:35px;background:#0a0a0a"></div><div class="c" style="left:1550px;top:177px;width:112px;height:35px;background:#27272a"></div><div class="t " style="top:186px;font-size:16.5px;line-height:16.5px;color:#fff;letter-spacing:0.231px;-webkit-text-stroke:0.35px #fff;left:6.5px;">Mango Rani</div><div class="t " style="top:186px;font-size:16.5px;line-height:16.5px;color:#fff;letter-spacing:0.659px;-webkit-text-stroke:0.35px #fff;left:235.5px;">Mare</div><div class="t " style="top:186px;font-size:16.5px;line-height:16.5px;color:#fff;letter-spacing:-0.01px;-webkit-text-stroke:0.35px #fff;left:347px;">4</div><div class="t " style="top:186px;font-size:16.5px;line-height:16.5px;color:#fff;letter-spacing:0.398px;-webkit-text-stroke:0.35px #fff;left:459px;">Akhal-Teke</div><div class="t " style="top:186px;font-size:16.5px;line-height:16.5px;color:#fff;letter-spacing:0.274px;-webkit-text-stroke:0.35px #fff;left:661.5px;">Bay Pintaloosa</div><svg class="b" style="left:816.0px;top:185.39999999999998px" width="86.60" height="18" viewBox="0 0 115.467 24" fill="none" stroke="#fff" stroke-width="1.6" stroke-linejoin="round"><polygon transform="translate(0.00,0)" points="12 2 15.09 8.26 22 9.27 17 14.14 18.18 21.02 12 17.77 5.82 21.02 7 14.14 2 9.27 8.91 8.26" fill="#fff"/><polygon transform="translate(22.87,0)" points="12 2 15.09 8.26 22 9.27 17 14.14 18.18 21.02 12 17.77 5.82 21.02 7 14.14 2 9.27 8.91 8.26" fill="#fff"/><polygon transform="translate(45.73,0)" points="12 2 15.09 8.26 22 9.27 17 14.14 18.18 21.02 12 17.77 5.82 21.02 7 14.14 2 9.27 8.91 8.26"/><polygon transform="translate(45.73,0)" points="12 2 12 17.77 5.82 21.02 7 14.14 2 9.27 8.91 8.26" fill="#fff"/><polygon transform="translate(68.60,0)" points="12 2 15.09 8.26 22 9.27 17 14.14 18.18 21.02 12 17.77 5.82 21.02 7 14.14 2 9.27 8.91 8.26"/><polygon transform="translate(91.47,0)" points="12 2 15.09 8.26 22 9.27 17 14.14 18.18 21.02 12 17.77 5.82 21.02 7 14.14 2 9.27 8.91 8.26"/></svg><svg class="b" style="left:927.2px;top:185.39999999999998px" width="86.60" height="18" viewBox="0 0 115.467 24" fill="none" stroke="#fff" stroke-width="1.6" stroke-linejoin="round"><polygon transform="translate(0.00,0)" points="12 2 15.09 8.26 22 9.27 17 14.14 18.18 21.02 12 17.77 5.82 21.02 7 14.14 2 9.27 8.91 8.26" fill="#fff"/><polygon transform="translate(22.87,0)" points="12 2 15.09 8.26 22 9.27 17 14.14 18.18 21.02 12 17.77 5.82 21.02 7 14.14 2 9.27 8.91 8.26" fill="#fff"/><polygon transform="translate(45.73,0)" points="12 2 15.09 8.26 22 9.27 17 14.14 18.18 21.02 12 17.77 5.82 21.02 7 14.14 2 9.27 8.91 8.26"/><polygon transform="translate(45.73,0)" points="12 2 12 17.77 5.82 21.02 7 14.14 2 9.27 8.91 8.26" fill="#fff"/><polygon transform="translate(68.60,0)" points="12 2 15.09 8.26 22 9.27 17 14.14 18.18 21.02 12 17.77 5.82 21.02 7 14.14 2 9.27 8.91 8.26"/><polygon transform="translate(91.47,0)" points="12 2 15.09 8.26 22 9.27 17 14.14 18.18 21.02 12 17.77 5.82 21.02 7 14.14 2 9.27 8.91 8.26"/></svg><div class="t " style="top:186px;font-size:16.5px;line-height:16.5px;color:#fff;letter-spacing:-0.056px;-webkit-text-stroke:0.35px #fff;left:1033px;">$0.0</div><div class="t " style="top:186px;font-size:16.5px;line-height:16.5px;color:#fff;letter-spacing:-0.117px;-webkit-text-stroke:0.35px #fff;left:1174.5px;">$119.9K - $179.9K</div><div class="t " style="top:186px;font-size:16.5px;line-height:16.5px;color:#fff;letter-spacing:0.46px;-webkit-text-stroke:0.35px #fff;left:1333.5px;">Not Graded</div><div class="b" style="left:1444px;top:185px;width:101px;height:19.5px;background:#6fcfa6;border-radius:5px;"></div><div class="t " style="top:186px;font-size:15px;line-height:15px;color:#0a0a0a;font-weight:bold;letter-spacing:0.365px;left:1093.98px;width:800px;text-align:center;">100%</div><div class="t " style="top:186px;font-size:16.5px;line-height:16.5px;color:#fff;letter-spacing:-0.187px;-webkit-text-stroke:0.35px #fff;left:1556px;">O-7</div><div class="c" style="left:0px;top:212px;width:230px;height:35px;background:#0a0a0a"></div><div class="c" style="left:230px;top:212px;width:111px;height:35px;background:#0a0a0a"></div><div class="c" style="left:341px;top:212px;width:112px;height:35px;background:#0a0a0a"></div><div class="c" style="left:453px;top:212px;width:202px;height:35px;background:#0a0a0a"></div><div class="c" style="left:655px;top:212px;width:149px;height:35px;background:#0a0a0a"></div><div class="c" style="left:804px;top:212px;width:111px;height:35px;background:#0a0a0a"></div><div class="c" style="left:915px;top:212px;width:113px;height:35px;background:#0a0a0a"></div><div class="c" style="left:1028px;top:212px;width:141px;height:35px;background:#0a0a0a"></div><div class="c" style="left:1169px;top:212px;width:158px;height:35px;background:#0a0a0a"></div><div class="c" style="left:1327px;top:212px;width:111px;height:35px;background:#0a0a0a"></div><div class="c" style="left:1438px;top:212px;width:112px;height:35px;background:#0a0a0a"></div><div class="c" style="left:1550px;top:212px;width:112px;height:35px;background:#27272a"></div><div class="t " style="top:221px;font-size:16.5px;line-height:16.5px;color:#fff;letter-spacing:0.431px;-webkit-text-stroke:0.35px #fff;left:6.5px;">Sunflower Valley Marco</div><div class="t " style="top:221px;font-size:16.5px;line-height:16.5px;color:#fff;letter-spacing:0.464px;-webkit-text-stroke:0.35px #fff;left:235.5px;">Stallion</div><div class="t " style="top:221px;font-size:16.5px;line-height:16.5px;color:#fff;letter-spacing:-0.01px;-webkit-text-stroke:0.35px #fff;left:347px;">5</div><div class="t " style="top:221px;font-size:16.5px;line-height:16.5px;color:#fff;letter-spacing:0.398px;-webkit-text-stroke:0.35px #fff;left:459px;">Akhal-Teke</div><div class="t " style="top:221px;font-size:16.5px;line-height:16.5px;color:#fff;letter-spacing:0.135px;-webkit-text-stroke:0.35px #fff;left:661.5px;">Bay Frame</div><svg class="b" style="left:816.0px;top:220.39999999999998px" width="86.60" height="18" viewBox="0 0 115.467 24" fill="none" stroke="#fff" stroke-width="1.6" stroke-linejoin="round"><polygon transform="translate(0.00,0)" points="12 2 15.09 8.26 22 9.27 17 14.14 18.18 21.02 12 17.77 5.82 21.02 7 14.14 2 9.27 8.91 8.26" fill="#fff"/><polygon transform="translate(22.87,0)" points="12 2 15.09 8.26 22 9.27 17 14.14 18.18 21.02 12 17.77 5.82 21.02 7 14.14 2 9.27 8.91 8.26" fill="#fff"/><polygon transform="translate(45.73,0)" points="12 2 15.09 8.26 22 9.27 17 14.14 18.18 21.02 12 17.77 5.82 21.02 7 14.14 2 9.27 8.91 8.26"/><polygon transform="translate(45.73,0)" points="12 2 12 17.77 5.82 21.02 7 14.14 2 9.27 8.91 8.26" fill="#fff"/><polygon transform="translate(68.60,0)" points="12 2 15.09 8.26 22 9.27 17 14.14 18.18 21.02 12 17.77 5.82 21.02 7 14.14 2 9.27 8.91 8.26"/><polygon transform="translate(91.47,0)" points="12 2 15.09 8.26 22 9.27 17 14.14 18.18 21.02 12 17.77 5.82 21.02 7 14.14 2 9.27 8.91 8.26"/></svg><svg class="b" style="left:927.2px;top:220.39999999999998px" width="86.60" height="18" viewBox="0 0 115.467 24" fill="none" stroke="#fff" stroke-width="1.6" stroke-linejoin="round"><polygon transform="translate(0.00,0)" points="12 2 15.09 8.26 22 9.27 17 14.14 18.18 21.02 12 17.77 5.82 21.02 7 14.14 2 9.27 8.91 8.26" fill="#fff"/><polygon transform="translate(22.87,0)" points="12 2 15.09 8.26 22 9.27 17 14.14 18.18 21.02 12 17.77 5.82 21.02 7 14.14 2 9.27 8.91 8.26" fill="#fff"/><polygon transform="translate(45.73,0)" points="12 2 15.09 8.26 22 9.27 17 14.14 18.18 21.02 12 17.77 5.82 21.02 7 14.14 2 9.27 8.91 8.26"/><polygon transform="translate(45.73,0)" points="12 2 12 17.77 5.82 21.02 7 14.14 2 9.27 8.91 8.26" fill="#fff"/><polygon transform="translate(68.60,0)" points="12 2 15.09 8.26 22 9.27 17 14.14 18.18 21.02 12 17.77 5.82 21.02 7 14.14 2 9.27 8.91 8.26"/><polygon transform="translate(91.47,0)" points="12 2 15.09 8.26 22 9.27 17 14.14 18.18 21.02 12 17.77 5.82 21.02 7 14.14 2 9.27 8.91 8.26"/></svg><div class="t " style="top:221px;font-size:16.5px;line-height:16.5px;color:#fff;letter-spacing:-0.168px;-webkit-text-stroke:0.35px #fff;left:1033px;">$19.5K</div><div class="t " style="top:221px;font-size:16.5px;line-height:16.5px;color:#fff;letter-spacing:-0.189px;-webkit-text-stroke:0.35px #fff;left:1174.5px;">$122.1K - $183.2K</div><div class="t " style="top:221px;font-size:16.5px;line-height:16.5px;color:#fff;letter-spacing:0.46px;-webkit-text-stroke:0.35px #fff;left:1333.5px;">Not Graded</div><div class="b" style="left:1444px;top:220px;width:101px;height:19.5px;background:#6fcfa6;border-radius:5px;"></div><div class="t " style="top:221px;font-size:15px;line-height:15px;color:#0a0a0a;font-weight:bold;letter-spacing:0.365px;left:1093.98px;width:800px;text-align:center;">100%</div><div class="t " style="top:221px;font-size:16.5px;line-height:16.5px;color:#fff;letter-spacing:-0.141px;-webkit-text-stroke:0.35px #fff;left:1556px;">3-3-7</div></div><div class="b" style="left:210px;top:111px;width:230px;height:37px;background:#27272a;border-radius:7px 0 0 0;border-bottom:1px solid #3c3c40;"></div><div class="b" style="left:440px;top:111px;width:111px;height:37px;background:#27272a;border-left:1px solid #2c2c30;border-bottom:1px solid #3c3c40;"></div><div class="b" style="left:551px;top:111px;width:112px;height:37px;background:#27272a;border-left:1px solid #2c2c30;border-bottom:1px solid #3c3c40;"></div><div class="b" style="left:663px;top:111px;width:202px;height:37px;background:#27272a;border-left:1px solid #2c2c30;border-bottom:1px solid #3c3c40;"></div><div class="b" style="left:865px;top:111px;width:149px;height:37px;background:#27272a;border-left:1px solid #2c2c30;border-bottom:1px solid #3c3c40;"></div><div class="b" style="left:1014px;top:111px;width:111px;height:37px;background:#27272a;border-left:1px solid #2c2c30;border-bottom:1px solid #3c3c40;"></div><div class="b" style="left:1125px;top:111px;width:113px;height:37px;background:#27272a;border-left:1px solid #2c2c30;border-bottom:1px solid #3c3c40;"></div><div class="b" style="left:1238px;top:111px;width:141px;height:37px;background:#27272a;border-left:1px solid #2c2c30;border-bottom:1px solid #3c3c40;"></div><div class="b" style="left:1379px;top:111px;width:158px;height:37px;background:#27272a;border-left:1px solid #2c2c30;border-bottom:1px solid #3c3c40;"></div><div class="b" style="left:1537px;top:111px;width:111px;height:37px;background:#27272a;border-left:1px solid #2c2c30;border-bottom:1px solid #3c3c40;"></div><div class="b" style="left:1648px;top:111px;width:112px;height:37px;background:#27272a;border-left:1px solid #2c2c30;border-bottom:1px solid #3c3c40;"></div><div class="b" style="left:1760px;top:111px;width:112px;height:37px;background:#3f3f46;border-left:1px solid #2c2c30;border-bottom:1px solid #3c3c40;"></div><div class="t " style="top:121px;font-size:16.5px;line-height:16.5px;color:#f4f4f5;letter-spacing:0.593px;-webkit-text-stroke:0.35px #f4f4f5;left:217.5px;">Name</div><div class="t " style="top:121px;font-size:16.5px;line-height:16.5px;color:#f4f4f5;letter-spacing:0.359px;-webkit-text-stroke:0.35px #f4f4f5;left:446.5px;">Gender</div><div class="t " style="top:121px;font-size:16.5px;line-height:16.5px;color:#f4f4f5;letter-spacing:-0.213px;-webkit-text-stroke:0.35px #f4f4f5;left:558.5px;">Age</div><div class="t " style="top:121px;font-size:16.5px;line-height:16.5px;color:#f4f4f5;letter-spacing:0.382px;-webkit-text-stroke:0.35px #f4f4f5;left:672px;">Breed</div><div class="t " style="top:121px;font-size:16.5px;line-height:16.5px;color:#f4f4f5;letter-spacing:0.2px;-webkit-text-stroke:0.35px #f4f4f5;left:874px;">Coat Color</div><div class="t " style="top:121px;font-size:16.5px;line-height:16.5px;color:#f4f4f5;letter-spacing:0.699px;-webkit-text-stroke:0.35px #f4f4f5;left:1023px;">Ability</div><div class="t " style="top:121px;font-size:16.5px;line-height:16.5px;color:#f4f4f5;letter-spacing:0.641px;-webkit-text-stroke:0.35px #f4f4f5;left:1136.5px;">Potential</div><div class="t " style="top:121px;font-size:16.5px;line-height:16.5px;color:#f4f4f5;letter-spacing:0.166px;-webkit-text-stroke:0.35px #f4f4f5;left:1248.5px;">Career Earnings</div><div class="t " style="top:121px;font-size:16.5px;line-height:16.5px;color:#f4f4f5;letter-spacing:0.409px;-webkit-text-stroke:0.35px #f4f4f5;left:1390px;">Estimated Value</div><div class="t " style="top:121px;font-size:16.5px;line-height:16.5px;color:#f4f4f5;letter-spacing:0.242px;-webkit-text-stroke:0.35px #f4f4f5;left:1547.5px;">Grade</div><div class="t " style="top:121px;font-size:16.5px;line-height:16.5px;color:#f4f4f5;letter-spacing:0.627px;-webkit-text-stroke:0.35px #f4f4f5;left:1661px;">Condition</div><div class="t " style="top:121px;font-size:16.5px;line-height:16.5px;color:#f4f4f5;letter-spacing:0.511px;-webkit-text-stroke:0.35px #f4f4f5;left:1774.5px;">Form</div>
<svg class="b" style="left:1518px;top:121px" width="14" height="12" viewBox="0 0 14 12"><polygon points="7,0.5 13.5,11.5 0.5,11.5" fill="#fff"/></svg>
<div class="b" style="left:1872px;top:111px;width:8px;height:237.5px;background:#6b6b6b;"></div>
<div class="b" style="left:1872px;top:111px;width:8px;height:88.5px;background:#dde3f7;border-radius:4px;"></div>
<div class="clip" style="left:210px;top:440px;width:1662px;height:244px"><div class="c" style="left:0px;top:26px;width:235px;height:35px;background:#26262a"></div><div class="c" style="left:235px;top:26px;width:110px;height:35px;background:#3a3c45"></div><div class="c" style="left:345px;top:26px;width:110px;height:35px;background:#26262a"></div><div class="c" style="left:455px;top:26px;width:202px;height:35px;background:#26262a"></div><div class="c" style="left:657px;top:26px;width:149px;height:35px;background:#26262a"></div><div class="c" style="left:806px;top:26px;width:110px;height:35px;background:#26262a"></div><div class="c" style="left:916px;top:26px;width:112px;height:35px;background:#26262a"></div><div class="c" style="left:1028px;top:26px;width:156px;height:35px;background:#26262a"></div><div class="c" style="left:1184px;top:26px;width:147px;height:35px;background:#26262a"></div><div class="c" style="left:1331px;top:26px;width:110px;height:35px;background:#26262a"></div><div class="c" style="left:1441px;top:26px;width:110px;height:35px;background:#26262a"></div><div class="c" style="left:1551px;top:26px;width:111px;height:35px;background:#26262a"></div><div class="t " style="top:35px;font-size:16.5px;line-height:16.5px;color:#eceef2;letter-spacing:0.295px;-webkit-text-stroke:0.35px #eceef2;left:6.5px;">Opal Gorgon</div><div class="t " style="top:35px;font-size:16.5px;line-height:16.5px;color:#eceef2;letter-spacing:0.659px;-webkit-text-stroke:0.35px #eceef2;left:241px;">Mare</div><div class="t " style="top:35px;font-size:16.5px;line-height:16.5px;color:#eceef2;letter-spacing:-0.01px;-webkit-text-stroke:0.35px #eceef2;left:351px;">5</div><div class="t " style="top:35px;font-size:16.5px;line-height:16.5px;color:#eceef2;letter-spacing:0.398px;-webkit-text-stroke:0.35px #eceef2;left:461px;">Akhal-Teke</div><div class="t " style="top:35px;font-size:16.5px;line-height:16.5px;color:#eceef2;letter-spacing:0.005px;-webkit-text-stroke:0.35px #eceef2;left:663px;">Bay</div><svg class="b" style="left:817.7px;top:34.39999999999998px" width="86.60" height="18" viewBox="0 0 115.467 24" fill="none" stroke="#eceef2" stroke-width="1.6" stroke-linejoin="round"><polygon transform="translate(0.00,0)" points="12 2 15.09 8.26 22 9.27 17 14.14 18.18 21.02 12 17.77 5.82 21.02 7 14.14 2 9.27 8.91 8.26" fill="#eceef2"/><polygon transform="translate(22.87,0)" points="12 2 15.09 8.26 22 9.27 17 14.14 18.18 21.02 12 17.77 5.82 21.02 7 14.14 2 9.27 8.91 8.26" fill="#eceef2"/><polygon transform="translate(45.73,0)" points="12 2 15.09 8.26 22 9.27 17 14.14 18.18 21.02 12 17.77 5.82 21.02 7 14.14 2 9.27 8.91 8.26"/><polygon transform="translate(68.60,0)" points="12 2 15.09 8.26 22 9.27 17 14.14 18.18 21.02 12 17.77 5.82 21.02 7 14.14 2 9.27 8.91 8.26"/><polygon transform="translate(91.47,0)" points="12 2 15.09 8.26 22 9.27 17 14.14 18.18 21.02 12 17.77 5.82 21.02 7 14.14 2 9.27 8.91 8.26"/></svg><svg class="b" style="left:928.7px;top:34.39999999999998px" width="86.60" height="18" viewBox="0 0 115.467 24" fill="none" stroke="#eceef2" stroke-width="1.6" stroke-linejoin="round"><polygon transform="translate(0.00,0)" points="12 2 15.09 8.26 22 9.27 17 14.14 18.18 21.02 12 17.77 5.82 21.02 7 14.14 2 9.27 8.91 8.26" fill="#eceef2"/><polygon transform="translate(22.87,0)" points="12 2 15.09 8.26 22 9.27 17 14.14 18.18 21.02 12 17.77 5.82 21.02 7 14.14 2 9.27 8.91 8.26" fill="#eceef2"/><polygon transform="translate(45.73,0)" points="12 2 15.09 8.26 22 9.27 17 14.14 18.18 21.02 12 17.77 5.82 21.02 7 14.14 2 9.27 8.91 8.26"/><polygon transform="translate(68.60,0)" points="12 2 15.09 8.26 22 9.27 17 14.14 18.18 21.02 12 17.77 5.82 21.02 7 14.14 2 9.27 8.91 8.26"/><polygon transform="translate(91.47,0)" points="12 2 15.09 8.26 22 9.27 17 14.14 18.18 21.02 12 17.77 5.82 21.02 7 14.14 2 9.27 8.91 8.26"/></svg><div class="t " style="top:35px;font-size:16.5px;line-height:16.5px;color:#eceef2;letter-spacing:-0.2px;-webkit-text-stroke:0.35px #eceef2;left:1033px;">$5.5K</div><div class="t " style="top:35px;font-size:16.5px;line-height:16.5px;color:#eceef2;letter-spacing:-0.189px;-webkit-text-stroke:0.35px #eceef2;left:1189.5px;">$101.4K - $152.1K</div><div class="t " style="top:35px;font-size:16.5px;line-height:16.5px;color:#eceef2;letter-spacing:0.46px;-webkit-text-stroke:0.35px #eceef2;left:1337px;">Not Graded</div><div class="b" style="left:1446.7px;top:34px;width:98.6px;height:19.5px;background:#5a5a5a;border-radius:5px;"></div><div class="b" style="left:1446.7px;top:34px;width:91.7px;height:19.5px;background:#6fcfa6;border-radius:5px;"></div><div class="t " style="top:35px;font-size:15px;line-height:15px;color:#0a0a0a;font-weight:bold;letter-spacing:0.95px;left:1095.77px;width:800px;text-align:center;">92%</div><div class="t " style="top:35px;font-size:16.5px;line-height:16.5px;color:#eceef2;letter-spacing:-0.119px;-webkit-text-stroke:0.35px #eceef2;left:1557px;">1-4</div><div class="c" style="left:0px;top:61px;width:235px;height:35px;background:#0a0a0a"></div><div class="c" style="left:235px;top:61px;width:110px;height:35px;background:#27272a"></div><div class="c" style="left:345px;top:61px;width:110px;height:35px;background:#0a0a0a"></div><div class="c" style="left:455px;top:61px;width:202px;height:35px;background:#0a0a0a"></div><div class="c" style="left:657px;top:61px;width:149px;height:35px;background:#0a0a0a"></div><div class="c" style="left:806px;top:61px;width:110px;height:35px;background:#0a0a0a"></div><div class="c" style="left:916px;top:61px;width:112px;height:35px;background:#0a0a0a"></div><div class="c" style="left:1028px;top:61px;width:156px;height:35px;background:#0a0a0a"></div><div class="c" style="left:1184px;top:61px;width:147px;height:35px;background:#0a0a0a"></div><div class="c" style="left:1331px;top:61px;width:110px;height:35px;background:#0a0a0a"></div><div class="c" style="left:1441px;top:61px;width:110px;height:35px;background:#0a0a0a"></div><div class="c" style="left:1551px;top:61px;width:111px;height:35px;background:#0a0a0a"></div><div class="t " style="top:70px;font-size:16.5px;line-height:16.5px;color:#fff;letter-spacing:0.481px;-webkit-text-stroke:0.35px #fff;left:6.5px;">Ballet Iridescent</div><div class="t " style="top:70px;font-size:16.5px;line-height:16.5px;color:#fff;letter-spacing:0.659px;-webkit-text-stroke:0.35px #fff;left:241px;">Mare</div><div class="t " style="top:70px;font-size:16.5px;line-height:16.5px;color:#fff;letter-spacing:-0.01px;-webkit-text-stroke:0.35px #fff;left:351px;">5</div><div class="t " style="top:70px;font-size:16.5px;line-height:16.5px;color:#fff;letter-spacing:0.554px;-webkit-text-stroke:0.35px #fff;left:461px;">Arabian</div><div class="t " style="top:70px;font-size:16.5px;line-height:16.5px;color:#fff;letter-spacing:0.005px;-webkit-text-stroke:0.35px #fff;left:663px;">Bay</div><svg class="b" style="left:817.7px;top:69.39999999999998px" width="86.60" height="18" viewBox="0 0 115.467 24" fill="none" stroke="#fff" stroke-width="1.6" stroke-linejoin="round"><polygon transform="translate(0.00,0)" points="12 2 15.09 8.26 22 9.27 17 14.14 18.18 21.02 12 17.77 5.82 21.02 7 14.14 2 9.27 8.91 8.26" fill="#fff"/><polygon transform="translate(22.87,0)" points="12 2 15.09 8.26 22 9.27 17 14.14 18.18 21.02 12 17.77 5.82 21.02 7 14.14 2 9.27 8.91 8.26" fill="#fff"/><polygon transform="translate(45.73,0)" points="12 2 15.09 8.26 22 9.27 17 14.14 18.18 21.02 12 17.77 5.82 21.02 7 14.14 2 9.27 8.91 8.26" fill="#fff"/><polygon transform="translate(68.60,0)" points="12 2 15.09 8.26 22 9.27 17 14.14 18.18 21.02 12 17.77 5.82 21.02 7 14.14 2 9.27 8.91 8.26"/><polygon transform="translate(91.47,0)" points="12 2 15.09 8.26 22 9.27 17 14.14 18.18 21.02 12 17.77 5.82 21.02 7 14.14 2 9.27 8.91 8.26"/></svg><svg class="b" style="left:928.7px;top:69.39999999999998px" width="86.60" height="18" viewBox="0 0 115.467 24" fill="none" stroke="#fff" stroke-width="1.6" stroke-linejoin="round"><polygon transform="translate(0.00,0)" points="12 2 15.09 8.26 22 9.27 17 14.14 18.18 21.02 12 17.77 5.82 21.02 7 14.14 2 9.27 8.91 8.26" fill="#fff"/><polygon transform="translate(22.87,0)" points="12 2 15.09 8.26 22 9.27 17 14.14 18.18 21.02 12 17.77 5.82 21.02 7 14.14 2 9.27 8.91 8.26" fill="#fff"/><polygon transform="translate(45.73,0)" points="12 2 15.09 8.26 22 9.27 17 14.14 18.18 21.02 12 17.77 5.82 21.02 7 14.14 2 9.27 8.91 8.26" fill="#fff"/><polygon transform="translate(68.60,0)" points="12 2 15.09 8.26 22 9.27 17 14.14 18.18 21.02 12 17.77 5.82 21.02 7 14.14 2 9.27 8.91 8.26"/><polygon transform="translate(91.47,0)" points="12 2 15.09 8.26 22 9.27 17 14.14 18.18 21.02 12 17.77 5.82 21.02 7 14.14 2 9.27 8.91 8.26"/></svg><div class="t " style="top:70px;font-size:16.5px;line-height:16.5px;color:#fff;letter-spacing:-0.2px;-webkit-text-stroke:0.35px #fff;left:1033px;">$5.2K</div><div class="t " style="top:70px;font-size:16.5px;line-height:16.5px;color:#fff;letter-spacing:-0.189px;-webkit-text-stroke:0.35px #fff;left:1189.5px;">$187.6K - $281.4K</div><div class="t " style="top:70px;font-size:16.5px;line-height:16.5px;color:#fff;letter-spacing:0.308px;-webkit-text-stroke:0.35px #fff;left:1337px;">III</div><div class="b" style="left:1446.7px;top:69px;width:98.6px;height:19.5px;background:#5a5a5a;border-radius:5px;"></div><div class="b" style="left:1446.7px;top:69px;width:68.6px;height:19.5px;background:#6fcfa6;border-radius:5px;"></div><div class="t " style="top:70px;font-size:15px;line-height:15px;color:#0a0a0a;font-weight:bold;letter-spacing:1.031px;left:1095.82px;width:800px;text-align:center;">66%</div><div class="t " style="top:70px;font-size:16.5px;line-height:16.5px;color:#fff;letter-spacing:-0.141px;-webkit-text-stroke:0.35px #fff;left:1557px;">4-4-7</div><div class="c" style="left:0px;top:96px;width:235px;height:35px;background:#0a0a0a"></div><div class="c" style="left:235px;top:96px;width:110px;height:35px;background:#27272a"></div><div class="c" style="left:345px;top:96px;width:110px;height:35px;background:#0a0a0a"></div><div class="c" style="left:455px;top:96px;width:202px;height:35px;background:#0a0a0a"></div><div class="c" style="left:657px;top:96px;width:149px;height:35px;background:#0a0a0a"></div><div class="c" style="left:806px;top:96px;width:110px;height:35px;background:#0a0a0a"></div><div class="c" style="left:916px;top:96px;width:112px;height:35px;background:#0a0a0a"></div><div class="c" style="left:1028px;top:96px;width:156px;height:35px;background:#0a0a0a"></div><div class="c" style="left:1184px;top:96px;width:147px;height:35px;background:#0a0a0a"></div><div class="c" style="left:1331px;top:96px;width:110px;height:35px;background:#0a0a0a"></div><div class="c" style="left:1441px;top:96px;width:110px;height:35px;background:#0a0a0a"></div><div class="c" style="left:1551px;top:96px;width:111px;height:35px;background:#0a0a0a"></div><div class="t " style="top:105px;font-size:16.5px;line-height:16.5px;color:#fff;letter-spacing:0.196px;-webkit-text-stroke:0.35px #fff;left:6.5px;">Sahara Zenobia</div><div class="t " style="top:105px;font-size:16.5px;line-height:16.5px;color:#fff;letter-spacing:0.659px;-webkit-text-stroke:0.35px #fff;left:241px;">Mare</div><div class="t " style="top:105px;font-size:16.5px;line-height:16.5px;color:#fff;letter-spacing:-0.01px;-webkit-text-stroke:0.35px #fff;left:351px;">4</div><div class="t " style="top:105px;font-size:16.5px;line-height:16.5px;color:#fff;letter-spacing:0.398px;-webkit-text-stroke:0.35px #fff;left:461px;">Akhal-Teke</div><div class="t " style="top:105px;font-size:16.5px;line-height:16.5px;color:#fff;letter-spacing:0.005px;-webkit-text-stroke:0.35px #fff;left:663px;">Bay</div><svg class="b" style="left:817.7px;top:104.39999999999998px" width="86.60" height="18" viewBox="0 0 115.467 24" fill="none" stroke="#fff" stroke-width="1.6" stroke-linejoin="round"><polygon transform="translate(0.00,0)" points="12 2 15.09 8.26 22 9.27 17 14.14 18.18 21.02 12 17.77 5.82 21.02 7 14.14 2 9.27 8.91 8.26" fill="#fff"/><polygon transform="translate(22.87,0)" points="12 2 15.09 8.26 22 9.27 17 14.14 18.18 21.02 12 17.77 5.82 21.02 7 14.14 2 9.27 8.91 8.26" fill="#fff"/><polygon transform="translate(45.73,0)" points="12 2 15.09 8.26 22 9.27 17 14.14 18.18 21.02 12 17.77 5.82 21.02 7 14.14 2 9.27 8.91 8.26"/><polygon transform="translate(45.73,0)" points="12 2 12 17.77 5.82 21.02 7 14.14 2 9.27 8.91 8.26" fill="#fff"/><polygon transform="translate(68.60,0)" points="12 2 15.09 8.26 22 9.27 17 14.14 18.18 21.02 12 17.77 5.82 21.02 7 14.14 2 9.27 8.91 8.26"/><polygon transform="translate(91.47,0)" points="12 2 15.09 8.26 22 9.27 17 14.14 18.18 21.02 12 17.77 5.82 21.02 7 14.14 2 9.27 8.91 8.26"/></svg><svg class="b" style="left:928.7px;top:104.39999999999998px" width="86.60" height="18" viewBox="0 0 115.467 24" fill="none" stroke="#fff" stroke-width="1.6" stroke-linejoin="round"><polygon transform="translate(0.00,0)" points="12 2 15.09 8.26 22 9.27 17 14.14 18.18 21.02 12 17.77 5.82 21.02 7 14.14 2 9.27 8.91 8.26" fill="#fff"/><polygon transform="translate(22.87,0)" points="12 2 15.09 8.26 22 9.27 17 14.14 18.18 21.02 12 17.77 5.82 21.02 7 14.14 2 9.27 8.91 8.26" fill="#fff"/><polygon transform="translate(45.73,0)" points="12 2 15.09 8.26 22 9.27 17 14.14 18.18 21.02 12 17.77 5.82 21.02 7 14.14 2 9.27 8.91 8.26"/><polygon transform="translate(45.73,0)" points="12 2 12 17.77 5.82 21.02 7 14.14 2 9.27 8.91 8.26" fill="#fff"/><polygon transform="translate(68.60,0)" points="12 2 15.09 8.26 22 9.27 17 14.14 18.18 21.02 12 17.77 5.82 21.02 7 14.14 2 9.27 8.91 8.26"/><polygon transform="translate(91.47,0)" points="12 2 15.09 8.26 22 9.27 17 14.14 18.18 21.02 12 17.77 5.82 21.02 7 14.14 2 9.27 8.91 8.26"/></svg><div class="t " style="top:105px;font-size:16.5px;line-height:16.5px;color:#fff;letter-spacing:-0.2px;-webkit-text-stroke:0.35px #fff;left:1033px;">$5.0K</div><div class="t " style="top:105px;font-size:16.5px;line-height:16.5px;color:#fff;letter-spacing:-0.189px;-webkit-text-stroke:0.35px #fff;left:1189.5px;">$169.7K - $254.5K</div><div class="t " style="top:105px;font-size:16.5px;line-height:16.5px;color:#fff;letter-spacing:0.46px;-webkit-text-stroke:0.35px #fff;left:1337px;">Not Graded</div><div class="b" style="left:1446.7px;top:104px;width:98.6px;height:19.5px;background:#6fcfa6;border-radius:5px;"></div><div class="t " style="top:105px;font-size:15px;line-height:15px;color:#0a0a0a;font-weight:bold;letter-spacing:0.365px;left:1095.48px;width:800px;text-align:center;">100%</div><div class="t " style="top:105px;font-size:16.5px;line-height:16.5px;color:#fff;letter-spacing:-0.119px;-webkit-text-stroke:0.35px #fff;left:1557px;">3-5</div><div class="c" style="left:0px;top:131px;width:235px;height:35px;background:#0a0a0a"></div><div class="c" style="left:235px;top:131px;width:110px;height:35px;background:#27272a"></div><div class="c" style="left:345px;top:131px;width:110px;height:35px;background:#0a0a0a"></div><div class="c" style="left:455px;top:131px;width:202px;height:35px;background:#0a0a0a"></div><div class="c" style="left:657px;top:131px;width:149px;height:35px;background:#0a0a0a"></div><div class="c" style="left:806px;top:131px;width:110px;height:35px;background:#0a0a0a"></div><div class="c" style="left:916px;top:131px;width:112px;height:35px;background:#0a0a0a"></div><div class="c" style="left:1028px;top:131px;width:156px;height:35px;background:#0a0a0a"></div><div class="c" style="left:1184px;top:131px;width:147px;height:35px;background:#0a0a0a"></div><div class="c" style="left:1331px;top:131px;width:110px;height:35px;background:#0a0a0a"></div><div class="c" style="left:1441px;top:131px;width:110px;height:35px;background:#0a0a0a"></div><div class="c" style="left:1551px;top:131px;width:111px;height:35px;background:#0a0a0a"></div><div class="t " style="top:140px;font-size:16.5px;line-height:16.5px;color:#fff;letter-spacing:0.395px;-webkit-text-stroke:0.35px #fff;left:6.5px;">Tesla Moonlight Beach</div><div class="t " style="top:140px;font-size:16.5px;line-height:16.5px;color:#fff;letter-spacing:0.659px;-webkit-text-stroke:0.35px #fff;left:241px;">Mare</div><div class="t " style="top:140px;font-size:16.5px;line-height:16.5px;color:#fff;letter-spacing:-0.01px;-webkit-text-stroke:0.35px #fff;left:351px;">4</div><div class="t " style="top:140px;font-size:16.5px;line-height:16.5px;color:#fff;letter-spacing:0.554px;-webkit-text-stroke:0.35px #fff;left:461px;">Arabian</div><div class="t " style="top:140px;font-size:16.5px;line-height:16.5px;color:#fff;letter-spacing:0.4px;-webkit-text-stroke:0.35px #fff;left:663px;">Chestnut Frame</div><svg class="b" style="left:817.7px;top:139.39999999999998px" width="86.60" height="18" viewBox="0 0 115.467 24" fill="none" stroke="#fff" stroke-width="1.6" stroke-linejoin="round"><polygon transform="translate(0.00,0)" points="12 2 15.09 8.26 22 9.27 17 14.14 18.18 21.02 12 17.77 5.82 21.02 7 14.14 2 9.27 8.91 8.26" fill="#fff"/><polygon transform="translate(22.87,0)" points="12 2 15.09 8.26 22 9.27 17 14.14 18.18 21.02 12 17.77 5.82 21.02 7 14.14 2 9.27 8.91 8.26" fill="#fff"/><polygon transform="translate(45.73,0)" points="12 2 15.09 8.26 22 9.27 17 14.14 18.18 21.02 12 17.77 5.82 21.02 7 14.14 2 9.27 8.91 8.26" fill="#fff"/><polygon transform="translate(68.60,0)" points="12 2 15.09 8.26 22 9.27 17 14.14 18.18 21.02 12 17.77 5.82 21.02 7 14.14 2 9.27 8.91 8.26"/><polygon transform="translate(91.47,0)" points="12 2 15.09 8.26 22 9.27 17 14.14 18.18 21.02 12 17.77 5.82 21.02 7 14.14 2 9.27 8.91 8.26"/></svg><svg class="b" style="left:928.7px;top:139.39999999999998px" width="86.60" height="18" viewBox="0 0 115.467 24" fill="none" stroke="#fff" stroke-width="1.6" stroke-linejoin="round"><polygon transform="translate(0.00,0)" points="12 2 15.09 8.26 22 9.27 17 14.14 18.18 21.02 12 17.77 5.82 21.02 7 14.14 2 9.27 8.91 8.26" fill="#fff"/><polygon transform="translate(22.87,0)" points="12 2 15.09 8.26 22 9.27 17 14.14 18.18 21.02 12 17.77 5.82 21.02 7 14.14 2 9.27 8.91 8.26" fill="#fff"/><polygon transform="translate(45.73,0)" points="12 2 15.09 8.26 22 9.27 17 14.14 18.18 21.02 12 17.77 5.82 21.02 7 14.14 2 9.27 8.91 8.26" fill="#fff"/><polygon transform="translate(68.60,0)" points="12 2 15.09 8.26 22 9.27 17 14.14 18.18 21.02 12 17.77 5.82 21.02 7 14.14 2 9.27 8.91 8.26"/><polygon transform="translate(91.47,0)" points="12 2 15.09 8.26 22 9.27 17 14.14 18.18 21.02 12 17.77 5.82 21.02 7 14.14 2 9.27 8.91 8.26"/></svg><div class="t " style="top:140px;font-size:16.5px;line-height:16.5px;color:#fff;letter-spacing:-0.168px;-webkit-text-stroke:0.35px #fff;left:1033px;">$49.0K</div><div class="t " style="top:140px;font-size:16.5px;line-height:16.5px;color:#fff;letter-spacing:-0.117px;-webkit-text-stroke:0.35px #fff;left:1189.5px;">$207.5K - $311.2K</div><div class="t " style="top:140px;font-size:16.5px;line-height:16.5px;color:#fff;letter-spacing:0.308px;-webkit-text-stroke:0.35px #fff;left:1337px;">III</div><div class="b" style="left:1446.7px;top:139px;width:98.6px;height:19.5px;background:#5a5a5a;border-radius:5px;"></div><div class="b" style="left:1446.7px;top:139px;width:89.4px;height:19.5px;background:#6fcfa6;border-radius:5px;"></div><div class="t " style="top:140px;font-size:15px;line-height:15px;color:#0a0a0a;font-weight:bold;letter-spacing:1.127px;left:1095.86px;width:800px;text-align:center;">90%</div><div class="t " style="top:140px;font-size:16.5px;line-height:16.5px;color:#fff;letter-spacing:-0.141px;-webkit-text-stroke:0.35px #fff;left:1557px;">3-1-2</div><div class="c" style="left:0px;top:166px;width:235px;height:35px;background:#4a4f5a;border-color:#6b717d"></div><div class="c" style="left:235px;top:166px;width:110px;height:35px;background:#5b606c;border-color:#6b717d"></div><div class="c" style="left:345px;top:166px;width:110px;height:35px;background:#4a4f5a;border-color:#6b717d"></div><div class="c" style="left:455px;top:166px;width:202px;height:35px;background:#4a4f5a;border-color:#6b717d"></div><div class="c" style="left:657px;top:166px;width:149px;height:35px;background:#4a4f5a;border-color:#6b717d"></div><div class="c" style="left:806px;top:166px;width:110px;height:35px;background:#4a4f5a;border-color:#6b717d"></div><div class="c" style="left:916px;top:166px;width:112px;height:35px;background:#4a4f5a;border-color:#6b717d"></div><div class="c" style="left:1028px;top:166px;width:156px;height:35px;background:#4a4f5a;border-color:#6b717d"></div><div class="c" style="left:1184px;top:166px;width:147px;height:35px;background:#4a4f5a;border-color:#6b717d"></div><div class="c" style="left:1331px;top:166px;width:110px;height:35px;background:#4a4f5a;border-color:#6b717d"></div><div class="c" style="left:1441px;top:166px;width:110px;height:35px;background:#4a4f5a;border-color:#6b717d"></div><div class="c" style="left:1551px;top:166px;width:111px;height:35px;background:#4a4f5a;border-color:#6b717d"></div><div class="t " style="top:175px;font-size:16.5px;line-height:16.5px;color:#a78bda;letter-spacing:0.15px;-webkit-text-stroke:0.35px #a78bda;left:6.5px;">Dodd Glee</div><div class="t " style="top:175px;font-size:16.5px;line-height:16.5px;color:#a4a9b4;letter-spacing:0.659px;-webkit-text-stroke:0.35px #a4a9b4;left:241px;">Mare</div><div class="t " style="top:175px;font-size:16.5px;line-height:16.5px;color:#a4a9b4;letter-spacing:-0.01px;-webkit-text-stroke:0.35px #a4a9b4;left:351px;">4</div><div class="t " style="top:175px;font-size:16.5px;line-height:16.5px;color:#a4a9b4;letter-spacing:0.62px;-webkit-text-stroke:0.35px #a4a9b4;left:461px;">Thoroughbred</div><div class="t " style="top:175px;font-size:16.5px;line-height:16.5px;color:#a4a9b4;letter-spacing:0.005px;-webkit-text-stroke:0.35px #a4a9b4;left:663px;">Bay</div><svg class="b" style="left:817.7px;top:174.39999999999998px" width="86.60" height="18" viewBox="0 0 115.467 24" fill="none" stroke="#c9ced8" stroke-width="1.6" stroke-linejoin="round"><polygon transform="translate(0.00,0)" points="12 2 15.09 8.26 22 9.27 17 14.14 18.18 21.02 12 17.77 5.82 21.02 7 14.14 2 9.27 8.91 8.26" fill="#c9ced8"/><polygon transform="translate(22.87,0)" points="12 2 15.09 8.26 22 9.27 17 14.14 18.18 21.02 12 17.77 5.82 21.02 7 14.14 2 9.27 8.91 8.26" fill="#c9ced8"/><polygon transform="translate(45.73,0)" points="12 2 15.09 8.26 22 9.27 17 14.14 18.18 21.02 12 17.77 5.82 21.02 7 14.14 2 9.27 8.91 8.26"/><polygon transform="translate(45.73,0)" points="12 2 12 17.77 5.82 21.02 7 14.14 2 9.27 8.91 8.26" fill="#c9ced8"/><polygon transform="translate(68.60,0)" points="12 2 15.09 8.26 22 9.27 17 14.14 18.18 21.02 12 17.77 5.82 21.02 7 14.14 2 9.27 8.91 8.26"/><polygon transform="translate(91.47,0)" points="12 2 15.09 8.26 22 9.27 17 14.14 18.18 21.02 12 17.77 5.82 21.02 7 14.14 2 9.27 8.91 8.26"/></svg><svg class="b" style="left:928.7px;top:174.39999999999998px" width="86.60" height="18" viewBox="0 0 115.467 24" fill="none" stroke="#c9ced8" stroke-width="1.6" stroke-linejoin="round"><polygon transform="translate(0.00,0)" points="12 2 15.09 8.26 22 9.27 17 14.14 18.18 21.02 12 17.77 5.82 21.02 7 14.14 2 9.27 8.91 8.26" fill="#c9ced8"/><polygon transform="translate(22.87,0)" points="12 2 15.09 8.26 22 9.27 17 14.14 18.18 21.02 12 17.77 5.82 21.02 7 14.14 2 9.27 8.91 8.26" fill="#c9ced8"/><polygon transform="translate(45.73,0)" points="12 2 15.09 8.26 22 9.27 17 14.14 18.18 21.02 12 17.77 5.82 21.02 7 14.14 2 9.27 8.91 8.26"/><polygon transform="translate(45.73,0)" points="12 2 12 17.77 5.82 21.02 7 14.14 2 9.27 8.91 8.26" fill="#c9ced8"/><polygon transform="translate(68.60,0)" points="12 2 15.09 8.26 22 9.27 17 14.14 18.18 21.02 12 17.77 5.82 21.02 7 14.14 2 9.27 8.91 8.26"/><polygon transform="translate(91.47,0)" points="12 2 15.09 8.26 22 9.27 17 14.14 18.18 21.02 12 17.77 5.82 21.02 7 14.14 2 9.27 8.91 8.26"/></svg><div class="t " style="top:175px;font-size:16.5px;line-height:16.5px;color:#a4a9b4;letter-spacing:-0.168px;-webkit-text-stroke:0.35px #a4a9b4;left:1033px;">$48.6K</div><div class="t " style="top:175px;font-size:16.5px;line-height:16.5px;color:#a4a9b4;letter-spacing:-0.189px;-webkit-text-stroke:0.35px #a4a9b4;left:1189.5px;">$130.8K - $196.2K</div><div class="t " style="top:175px;font-size:16.5px;line-height:16.5px;color:#a4a9b4;letter-spacing:0.308px;-webkit-text-stroke:0.35px #a4a9b4;left:1337px;">III</div><div class="b" style="left:1446.7px;top:174px;width:98.6px;height:19.5px;background:#6a7079;border-radius:5px;"></div><div class="b" style="left:1446.7px;top:174px;width:91.7px;height:19.5px;background:#7fb5a6;border-radius:5px;"></div><div class="t " style="top:175px;font-size:15px;line-height:15px;color:#4f6f6c;font-weight:bold;letter-spacing:0.95px;left:1095.77px;width:800px;text-align:center;">92%</div><div class="t " style="top:175px;font-size:16.5px;line-height:16.5px;color:#a4a9b4;letter-spacing:-0.141px;-webkit-text-stroke:0.35px #a4a9b4;left:1557px;">5-5-1</div><div class="c" style="left:0px;top:201px;width:235px;height:35px;background:#0a0a0a"></div><div class="c" style="left:235px;top:201px;width:110px;height:35px;background:#27272a"></div><div class="c" style="left:345px;top:201px;width:110px;height:35px;background:#0a0a0a"></div><div class="c" style="left:455px;top:201px;width:202px;height:35px;background:#0a0a0a"></div><div class="c" style="left:657px;top:201px;width:149px;height:35px;background:#0a0a0a"></div><div class="c" style="left:806px;top:201px;width:110px;height:35px;background:#0a0a0a"></div><div class="c" style="left:916px;top:201px;width:112px;height:35px;background:#0a0a0a"></div><div class="c" style="left:1028px;top:201px;width:156px;height:35px;background:#0a0a0a"></div><div class="c" style="left:1184px;top:201px;width:147px;height:35px;background:#0a0a0a"></div><div class="c" style="left:1331px;top:201px;width:110px;height:35px;background:#0a0a0a"></div><div class="c" style="left:1441px;top:201px;width:110px;height:35px;background:#0a0a0a"></div><div class="c" style="left:1551px;top:201px;width:111px;height:35px;background:#0a0a0a"></div><div class="t " style="top:210px;font-size:16.5px;line-height:16.5px;color:#fff;letter-spacing:0.201px;-webkit-text-stroke:0.35px #fff;left:6.5px;">Taz Luna</div><div class="t " style="top:210px;font-size:16.5px;line-height:16.5px;color:#fff;letter-spacing:0.659px;-webkit-text-stroke:0.35px #fff;left:241px;">Mare</div><div class="t " style="top:210px;font-size:16.5px;line-height:16.5px;color:#fff;letter-spacing:-0.01px;-webkit-text-stroke:0.35px #fff;left:351px;">4</div><div class="t " style="top:210px;font-size:16.5px;line-height:16.5px;color:#fff;letter-spacing:0.491px;-webkit-text-stroke:0.35px #fff;left:461px;">American Quarter Horse</div><div class="t " style="top:210px;font-size:16.5px;line-height:16.5px;color:#fff;letter-spacing:0.549px;-webkit-text-stroke:0.35px #fff;left:663px;">Chestnut</div><svg class="b" style="left:817.7px;top:209.39999999999998px" width="86.60" height="18" viewBox="0 0 115.467 24" fill="none" stroke="#fff" stroke-width="1.6" stroke-linejoin="round"><polygon transform="translate(0.00,0)" points="12 2 15.09 8.26 22 9.27 17 14.14 18.18 21.02 12 17.77 5.82 21.02 7 14.14 2 9.27 8.91 8.26" fill="#fff"/><polygon transform="translate(22.87,0)" points="12 2 15.09 8.26 22 9.27 17 14.14 18.18 21.02 12 17.77 5.82 21.02 7 14.14 2 9.27 8.91 8.26" fill="#fff"/><polygon transform="translate(45.73,0)" points="12 2 15.09 8.26 22 9.27 17 14.14 18.18 21.02 12 17.77 5.82 21.02 7 14.14 2 9.27 8.91 8.26" fill="#fff"/><polygon transform="translate(68.60,0)" points="12 2 15.09 8.26 22 9.27 17 14.14 18.18 21.02 12 17.77 5.82 21.02 7 14.14 2 9.27 8.91 8.26"/><polygon transform="translate(91.47,0)" points="12 2 15.09 8.26 22 9.27 17 14.14 18.18 21.02 12 17.77 5.82 21.02 7 14.14 2 9.27 8.91 8.26"/></svg><svg class="b" style="left:928.7px;top:209.39999999999998px" width="86.60" height="18" viewBox="0 0 115.467 24" fill="none" stroke="#fff" stroke-width="1.6" stroke-linejoin="round"><polygon transform="translate(0.00,0)" points="12 2 15.09 8.26 22 9.27 17 14.14 18.18 21.02 12 17.77 5.82 21.02 7 14.14 2 9.27 8.91 8.26" fill="#fff"/><polygon transform="translate(22.87,0)" points="12 2 15.09 8.26 22 9.27 17 14.14 18.18 21.02 12 17.77 5.82 21.02 7 14.14 2 9.27 8.91 8.26" fill="#fff"/><polygon transform="translate(45.73,0)" points="12 2 15.09 8.26 22 9.27 17 14.14 18.18 21.02 12 17.77 5.82 21.02 7 14.14 2 9.27 8.91 8.26" fill="#fff"/><polygon transform="translate(68.60,0)" points="12 2 15.09 8.26 22 9.27 17 14.14 18.18 21.02 12 17.77 5.82 21.02 7 14.14 2 9.27 8.91 8.26"/><polygon transform="translate(91.47,0)" points="12 2 15.09 8.26 22 9.27 17 14.14 18.18 21.02 12 17.77 5.82 21.02 7 14.14 2 9.27 8.91 8.26"/></svg><div class="t " style="top:210px;font-size:16.5px;line-height:16.5px;color:#fff;letter-spacing:-0.041px;-webkit-text-stroke:0.35px #fff;left:1033px;">$450.0</div><div class="t " style="top:210px;font-size:16.5px;line-height:16.5px;color:#fff;letter-spacing:-0.189px;-webkit-text-stroke:0.35px #fff;left:1189.5px;">$199.7K - $299.6K</div><div class="t " style="top:210px;font-size:16.5px;line-height:16.5px;color:#fff;letter-spacing:0.308px;-webkit-text-stroke:0.35px #fff;left:1337px;">III</div><div class="b" style="left:1446.7px;top:209px;width:98.6px;height:19.5px;background:#5a5a5a;border-radius:5px;"></div><div class="b" style="left:1446.7px;top:209px;width:82.8px;height:19.5px;background:#6fcfa6;border-radius:5px;"></div><div class="t " style="top:210px;font-size:15px;line-height:15px;color:#0a0a0a;font-weight:bold;letter-spacing:0.953px;left:1095.78px;width:800px;text-align:center;">82%</div><div class="t " style="top:210px;font-size:16.5px;line-height:16.5px;color:#fff;letter-spacing:-0.141px;-webkit-text-stroke:0.35px #fff;left:1557px;">5-8-6</div><div class="c" style="left:0px;top:236px;width:235px;height:35px;background:#0a0a0a"></div><div class="c" style="left:235px;top:236px;width:110px;height:35px;background:#27272a"></div><div class="c" style="left:345px;top:236px;width:110px;height:35px;background:#0a0a0a"></div><div class="c" style="left:455px;top:236px;width:202px;height:35px;background:#0a0a0a"></div><div class="c" style="left:657px;top:236px;width:149px;height:35px;background:#0a0a0a"></div><div class="c" style="left:806px;top:236px;width:110px;height:35px;background:#0a0a0a"></div><div class="c" style="left:916px;top:236px;width:112px;height:35px;background:#0a0a0a"></div><div class="c" style="left:1028px;top:236px;width:156px;height:35px;background:#0a0a0a"></div><div class="c" style="left:1184px;top:236px;width:147px;height:35px;background:#0a0a0a"></div><div class="c" style="left:1331px;top:236px;width:110px;height:35px;background:#0a0a0a"></div><div class="c" style="left:1441px;top:236px;width:110px;height:35px;background:#0a0a0a"></div><div class="c" style="left:1551px;top:236px;width:111px;height:35px;background:#0a0a0a"></div></div><div class="b" style="left:210px;top:440px;width:235px;height:37px;background:#27272a;border-radius:7px 0 0 0;"></div><div class="b" style="left:445px;top:440px;width:110px;height:37px;background:#3f3f46;border-left:1px solid #2c2c30;"></div><div class="b" style="left:555px;top:440px;width:110px;height:37px;background:#27272a;border-left:1px solid #2c2c30;"></div><div class="b" style="left:665px;top:440px;width:202px;height:37px;background:#27272a;border-left:1px solid #2c2c30;"></div><div class="b" style="left:867px;top:440px;width:149px;height:37px;background:#27272a;border-left:1px solid #2c2c30;"></div><div class="b" style="left:1016px;top:440px;width:110px;height:37px;background:#27272a;border-left:1px solid #2c2c30;"></div><div class="b" style="left:1126px;top:440px;width:112px;height:37px;background:#27272a;border-left:1px solid #2c2c30;"></div><div class="b" style="left:1238px;top:440px;width:156px;height:37px;background:#27272a;border-left:1px solid #2c2c30;"></div><div class="b" style="left:1394px;top:440px;width:147px;height:37px;background:#27272a;border-left:1px solid #2c2c30;"></div><div class="b" style="left:1541px;top:440px;width:110px;height:37px;background:#27272a;border-left:1px solid #2c2c30;"></div><div class="b" style="left:1651px;top:440px;width:110px;height:37px;background:#27272a;border-left:1px solid #2c2c30;"></div><div class="b" style="left:1761px;top:440px;width:111px;height:37px;background:#27272a;border-left:1px solid #2c2c30;"></div><div class="t " style="top:450px;font-size:16.5px;line-height:16.5px;color:#f4f4f5;letter-spacing:0.593px;-webkit-text-stroke:0.35px #f4f4f5;left:217.5px;">Name</div><div class="t " style="top:450px;font-size:16.5px;line-height:16.5px;color:#f4f4f5;letter-spacing:0.359px;-webkit-text-stroke:0.35px #f4f4f5;left:451.5px;">Gender</div><div class="t " style="top:450px;font-size:16.5px;line-height:16.5px;color:#f4f4f5;letter-spacing:-0.213px;-webkit-text-stroke:0.35px #f4f4f5;left:561.5px;">Age</div><div class="t " style="top:450px;font-size:16.5px;line-height:16.5px;color:#f4f4f5;letter-spacing:0.382px;-webkit-text-stroke:0.35px #f4f4f5;left:672px;">Breed</div><div class="t " style="top:450px;font-size:16.5px;line-height:16.5px;color:#f4f4f5;letter-spacing:0.2px;-webkit-text-stroke:0.35px #f4f4f5;left:874px;">Coat Color</div><div class="t " style="top:450px;font-size:16.5px;line-height:16.5px;color:#f4f4f5;letter-spacing:0.699px;-webkit-text-stroke:0.35px #f4f4f5;left:1023px;">Ability</div><div class="t " style="top:450px;font-size:16.5px;line-height:16.5px;color:#f4f4f5;letter-spacing:0.641px;-webkit-text-stroke:0.35px #f4f4f5;left:1133.5px;">Potential</div><div class="t " style="top:450px;font-size:16.5px;line-height:16.5px;color:#f4f4f5;letter-spacing:0.166px;-webkit-text-stroke:0.35px #f4f4f5;left:1244.5px;">Career Earnings</div><div class="t " style="top:450px;font-size:16.5px;line-height:16.5px;color:#f4f4f5;letter-spacing:0.409px;-webkit-text-stroke:0.35px #f4f4f5;left:1400.5px;">Estimated Value</div><div class="t " style="top:450px;font-size:16.5px;line-height:16.5px;color:#f4f4f5;letter-spacing:0.242px;-webkit-text-stroke:0.35px #f4f4f5;left:1547.5px;">Grade</div><div class="t " style="top:450px;font-size:16.5px;line-height:16.5px;color:#f4f4f5;letter-spacing:0.627px;-webkit-text-stroke:0.35px #f4f4f5;left:1657.5px;">Condition</div><div class="t " style="top:450px;font-size:16.5px;line-height:16.5px;color:#f4f4f5;letter-spacing:0.511px;-webkit-text-stroke:0.35px #f4f4f5;left:1768px;">Form</div>
<svg class="b" style="left:1372px;top:451px" width="14" height="12" viewBox="0 0 14 12"><polygon points="0.5,0.5 13.5,0.5 7,11.5" fill="#fff"/></svg>
<div class="b" style="left:1872px;top:440px;width:8px;height:244px;background:#6b6b6b;"></div>
<div class="b" style="left:1872px;top:478.5px;width:8px;height:14px;background:#dde3f7;border-radius:4px;"></div>
<div class="b" style="left:1891px;top:465px;width:40px;height:72px;background:#2e2e33;border-radius:7px;"></div>
<div class="t" style="left:1905.500px;top:501px;width:0;height:0;"><div style="position:absolute;left:-40px;top:-8px;width:80px;height:16px;line-height:16px;font-size:15px;text-align:center;color:#fff;transform:rotate(-90deg);letter-spacing:0.3px;-webkit-text-stroke:0.25px #fff">Notes</div></div>
<div class="t " style="top:739px;font-size:19.8px;line-height:19.8px;color:#fff;letter-spacing:0.603px;-webkit-text-stroke:0.65px #fff;left:210.5px;">Appearance</div>
<div class="t " style="top:739px;font-size:19.8px;line-height:19.8px;color:#fff;letter-spacing:0.465px;-webkit-text-stroke:0.65px #fff;left:803px;">Physical</div>
<div class="t " style="top:739px;font-size:19.8px;line-height:19.8px;color:#fff;letter-spacing:0.682px;-webkit-text-stroke:0.65px #fff;left:1360px;">Contract</div>
<div class="t " style="top:776px;font-size:13.8px;line-height:13.8px;color:#fff;letter-spacing:0.333px;-webkit-text-stroke:0.55px #fff;right:919.17px;">Speed</div>
<div class="b" style="left:1005px;top:774px;width:200.5px;height:21.5px;background:#555555;border-radius:5px;"></div>
<div class="b" style="left:1005px;top:774px;width:104.0px;height:21.5px;background:#fadc7d;border-radius:5px;"></div>
<div class="t " style="top:777px;font-size:15px;line-height:15px;color:#0a0a0a;font-weight:bold;letter-spacing:-0.208px;left:704.90px;width:800px;text-align:center;">51%</div>
<div class="t " style="top:802px;font-size:13.8px;line-height:13.8px;color:#fff;letter-spacing:0.504px;-webkit-text-stroke:0.55px #fff;right:919.00px;">Acceleration</div>
<div class="b" style="left:1005px;top:800px;width:200.5px;height:21.5px;background:#555555;border-radius:5px;"></div>
<div class="b" style="left:1005px;top:800px;width:80.0px;height:21.5px;background:#f3b080;border-radius:5px;"></div>
<div class="t " style="top:803px;font-size:15px;line-height:15px;color:#0a0a0a;font-weight:bold;letter-spacing:0.86px;left:705.43px;width:800px;text-align:center;">39%</div>
<div class="t " style="top:828px;font-size:13.8px;line-height:13.8px;color:#fff;letter-spacing:0.457px;-webkit-text-stroke:0.55px #fff;right:919.04px;">Strength</div>
<div class="b" style="left:1005px;top:826px;width:200.5px;height:21.5px;background:#555555;border-radius:5px;"></div>
<div class="b" style="left:1005px;top:826px;width:66.0px;height:21.5px;background:#f3b080;border-radius:5px;"></div>
<div class="t " style="top:829px;font-size:15px;line-height:15px;color:#0a0a0a;font-weight:bold;letter-spacing:0.78px;left:705.39px;width:800px;text-align:center;">32%</div>
<div class="t " style="top:854px;font-size:13.8px;line-height:13.8px;color:#fff;letter-spacing:0.593px;-webkit-text-stroke:0.55px #fff;right:918.91px;">Agility</div>
<div class="b" style="left:1005px;top:852px;width:200.5px;height:21.5px;background:#555555;border-radius:5px;"></div>
<div class="b" style="left:1005px;top:852px;width:90.0px;height:21.5px;background:#f3b080;border-radius:5px;"></div>
<div class="t " style="top:855px;font-size:15px;line-height:15px;color:#0a0a0a;font-weight:bold;letter-spacing:1.127px;left:705.56px;width:800px;text-align:center;">44%</div>
<div class="t " style="top:880px;font-size:13.8px;line-height:13.8px;color:#fff;letter-spacing:0.282px;-webkit-text-stroke:0.55px #fff;right:919.22px;">Stamina</div>
<div class="b" style="left:1005px;top:878px;width:200.5px;height:21.5px;background:#555555;border-radius:5px;"></div>
<div class="b" style="left:1005px;top:878px;width:146.0px;height:21.5px;background:#fadc7d;border-radius:5px;"></div>
<div class="t " style="top:881px;font-size:15px;line-height:15px;color:#0a0a0a;font-weight:bold;letter-spacing:0.494px;left:705.25px;width:800px;text-align:center;">72%</div>
<div class="t " style="top:906px;font-size:13.8px;line-height:13.8px;color:#fff;letter-spacing:0.35px;-webkit-text-stroke:0.55px #fff;right:919.15px;">Endurance</div>
<div class="b" style="left:1005px;top:904px;width:200.5px;height:21.5px;background:#555555;border-radius:5px;"></div>
<div class="b" style="left:1005px;top:904px;width:154.0px;height:21.5px;background:#6fcfa6;border-radius:5px;"></div>
<div class="t " style="top:907px;font-size:15px;line-height:15px;color:#0a0a0a;font-weight:bold;letter-spacing:0.499px;left:705.25px;width:800px;text-align:center;">76%</div>
<div class="t " style="top:932px;font-size:13.8px;line-height:13.8px;color:#fff;letter-spacing:0.468px;-webkit-text-stroke:0.55px #fff;right:919.03px;">Injury risk</div>
<div class="b" style="left:1005px;top:930px;width:200.5px;height:21.5px;background:#555555;border-radius:5px;"></div>
<div class="b" style="left:1005px;top:930px;width:140.0px;height:21.5px;background:#f3b080;border-radius:5px;"></div>
<div class="t " style="top:933px;font-size:15px;line-height:15px;color:#0a0a0a;font-weight:bold;letter-spacing:0.876px;left:705.44px;width:800px;text-align:center;">69%</div>
<div class="t " style="top:958px;font-size:13.8px;line-height:13.8px;color:#fff;letter-spacing:0.363px;-webkit-text-stroke:0.55px #fff;right:919.14px;">Illness risk</div>
<div class="b" style="left:1005px;top:956px;width:200.5px;height:21.5px;background:#555555;border-radius:5px;"></div>
<div class="b" style="left:1005px;top:956px;width:148.0px;height:21.5px;background:#f3b080;border-radius:5px;"></div>
<div class="t " style="top:959px;font-size:15px;line-height:15px;color:#0a0a0a;font-weight:bold;letter-spacing:0.478px;left:705.24px;width:800px;text-align:center;">73%</div>
<div class="t " style="top:984px;font-size:13.8px;line-height:13.8px;color:#fff;letter-spacing:0.438px;-webkit-text-stroke:0.55px #fff;right:919.06px;">Intelligence</div>
<div class="t " style="top:984px;font-size:13.8px;line-height:13.8px;color:#f3b080;letter-spacing:0.327px;-webkit-text-stroke:0.55px #f3b080;left:705.16px;width:800px;text-align:center;">Below Average</div>
<div class="t " style="top:1010px;font-size:13.8px;line-height:13.8px;color:#fff;letter-spacing:0.517px;-webkit-text-stroke:0.55px #fff;right:918.98px;">Temperament</div>
<div class="t " style="top:1010px;font-size:13.8px;line-height:13.8px;color:#fadc7d;letter-spacing:0.237px;-webkit-text-stroke:0.55px #fadc7d;left:704.12px;width:800px;text-align:center;">Serene</div>
<div class="t " style="top:771px;font-size:13.8px;line-height:13.8px;color:#fff;letter-spacing:0.391px;-webkit-text-stroke:0.55px #fff;left:1221.70px;width:800px;text-align:center;">Potential ability</div>
<svg class="b" style="left:1577.6px;top:793.0px" width="85.60" height="18" viewBox="0 0 114.133 24" fill="none" stroke="#fbe173" stroke-width="1.6" stroke-linejoin="round"><polygon transform="translate(0.00,0)" points="12 2 15.09 8.26 22 9.27 17 14.14 18.18 21.02 12 17.77 5.82 21.02 7 14.14 2 9.27 8.91 8.26" fill="#fbe173"/><polygon transform="translate(22.53,0)" points="12 2 15.09 8.26 22 9.27 17 14.14 18.18 21.02 12 17.77 5.82 21.02 7 14.14 2 9.27 8.91 8.26" fill="#fbe173"/><polygon transform="translate(45.07,0)" points="12 2 15.09 8.26 22 9.27 17 14.14 18.18 21.02 12 17.77 5.82 21.02 7 14.14 2 9.27 8.91 8.26"/><polygon transform="translate(45.07,0)" points="12 2 12 17.77 5.82 21.02 7 14.14 2 9.27 8.91 8.26" fill="#fbe173"/><polygon transform="translate(67.60,0)" points="12 2 15.09 8.26 22 9.27 17 14.14 18.18 21.02 12 17.77 5.82 21.02 7 14.14 2 9.27 8.91 8.26"/><polygon transform="translate(90.13,0)" points="12 2 15.09 8.26 22 9.27 17 14.14 18.18 21.02 12 17.77 5.82 21.02 7 14.14 2 9.27 8.91 8.26"/></svg>
<div class="t " style="top:816px;font-size:13.8px;line-height:13.8px;color:#fff;letter-spacing:0.442px;-webkit-text-stroke:0.55px #fff;left:1221.72px;width:800px;text-align:center;">Success chance</div>
<div class="t " style="top:842px;font-size:12.9px;line-height:12.9px;color:#c8aa55;letter-spacing:0.727px;-webkit-text-stroke:0.4px #c8aa55;left:1221.86px;width:800px;text-align:center;">50.0%</div>
<div class="t " style="top:867px;font-size:13.8px;line-height:13.8px;color:#fff;letter-spacing:0.391px;-webkit-text-stroke:0.55px #fff;left:1221.70px;width:800px;text-align:center;">Cost to King&#x27;s Gambit</div>
<div class="t " style="top:893px;font-size:12.9px;line-height:12.9px;color:#d4d4d8;letter-spacing:0.594px;-webkit-text-stroke:0.4px #d4d4d8;left:1221.80px;width:800px;text-align:center;">$54.5K</div>
<div class="b" style="left:1523px;top:915.5px;width:198.5px;height:27.5px;background:#3c3c43;border-radius:5px;"></div>
<div class="t " style="top:922px;font-size:14px;line-height:14px;color:#fff;letter-spacing:0.38px;-webkit-text-stroke:0.35px #fff;left:1222.19px;width:800px;text-align:center;">Try to make foal ($54.5K)</div>
<div class="t " style="top:950px;font-size:13.8px;line-height:13.8px;color:#fff;letter-spacing:0.381px;-webkit-text-stroke:0.55px #fff;right:414.62px;">Stables involved</div>
<div class="t " style="top:951px;font-size:12.9px;line-height:12.9px;color:#c4c4c8;letter-spacing:0.433px;-webkit-text-stroke:0.4px #c4c4c8;left:1509.5px;">King&#x27;s Gambit</div>
<div class="b" style="left:1599px;top:948.5px;width:1.5px;height:14px;background:#c4c4c8;"></div>
<div class="t " style="top:951px;font-size:12.9px;line-height:12.9px;color:#c4c4c8;letter-spacing:0.355px;-webkit-text-stroke:0.4px #c4c4c8;left:1605.5px;">Acosta Pastures</div>
<div class="t " style="top:976px;font-size:13.8px;line-height:13.8px;color:#fff;letter-spacing:0.42px;-webkit-text-stroke:0.55px #fff;right:414.58px;">Horses involved</div>
<div class="t " style="top:977px;font-size:12.9px;line-height:12.9px;color:#c4c4c8;letter-spacing:0.395px;-webkit-text-stroke:0.4px #c4c4c8;left:1509.5px;">Troubadour Tumbleweed (Stallion)</div>
<div class="b" style="left:1722.5px;top:974.5px;width:1.5px;height:14px;background:#c4c4c8;"></div>
<div class="t " style="top:977px;font-size:12.9px;line-height:12.9px;color:#c4c4c8;letter-spacing:0.271px;-webkit-text-stroke:0.4px #c4c4c8;left:1729px;">Dodd Glee (Mare)</div>
<div class="t " style="top:1002px;font-size:13.8px;line-height:13.8px;color:#fff;letter-spacing:0.437px;-webkit-text-stroke:0.55px #fff;right:414.56px;">Owner of possible foal</div>
<div class="t " style="top:1003px;font-size:12.9px;line-height:12.9px;color:#c4c4c8;letter-spacing:0.433px;-webkit-text-stroke:0.4px #c4c4c8;left:1509.5px;">King&#x27;s Gambit</div>
<div class="b" style="left:0px;top:1077px;width:1920px;height:1px;background:rgba(0,0,0,0.35);"></div>
<div class="b" style="left:0px;top:1078px;width:1920px;height:1px;background:#000;"></div>
<svg class="b" style="left:395px;top:850px;filter:blur(0.5px)" width="200" height="200" viewBox="395 850 200 200" shape-rendering="crispEdges"><rect x="433.9" y="905.8" width="29.8" height="4.2" fill="#3a221c"/><rect x="417.2" y="909.8" width="12.2" height="4.2" fill="#3a4341"/><rect x="429.3" y="909.8" width="4.3" height="4.2" fill="#3a221c"/><rect x="433.5" y="909.8" width="5.2" height="4.2" fill="#8a5545"/><rect x="438.6" y="909.8" width="20.5" height="4.2" fill="#d98f56"/><rect x="458.9" y="909.8" width="4.8" height="4.2" fill="#8a7050"/><rect x="463.6" y="909.8" width="29.8" height="4.2" fill="#3a221c"/><rect x="493.2" y="909.8" width="1.9" height="4.2" fill="#2f3634"/><rect x="408.9" y="913.9" width="9.4" height="4.2" fill="#2f3634"/><rect x="418.2" y="913.9" width="7.6" height="4.2" fill="#a0abbc"/><rect x="425.6" y="913.9" width="3.9" height="4.2" fill="#3a221c"/><rect x="429.3" y="913.9" width="3.9" height="4.2" fill="#eaa468"/><rect x="433.0" y="913.9" width="9.4" height="4.2" fill="#f0b478"/><rect x="442.3" y="913.9" width="45.6" height="4.2" fill="#d98f56"/><rect x="487.7" y="913.9" width="7.5" height="4.2" fill="#8a5545"/><rect x="408.9" y="918.0" width="4.8" height="4.2" fill="#2f3634"/><rect x="413.5" y="918.0" width="4.3" height="4.2" fill="#56615e"/><rect x="417.7" y="918.0" width="4.3" height="4.2" fill="#a0abbc"/><rect x="421.9" y="918.0" width="4.3" height="4.2" fill="#3a221c"/><rect x="426.0" y="918.0" width="3.4" height="4.2" fill="#a8754f"/><rect x="429.3" y="918.0" width="21.5" height="4.2" fill="#d98f56"/><rect x="450.6" y="918.0" width="8.5" height="4.2" fill="#c9864f"/><rect x="458.9" y="918.0" width="36.2" height="4.2" fill="#d98f56"/><rect x="408.9" y="922.1" width="4.8" height="4.2" fill="#2f3634"/><rect x="413.5" y="922.1" width="4.3" height="4.2" fill="#a0abbc"/><rect x="417.7" y="922.1" width="4.3" height="4.2" fill="#56615e"/><rect x="421.9" y="922.1" width="4.3" height="4.2" fill="#3a221c"/><rect x="426.0" y="922.1" width="3.4" height="4.2" fill="#a8754f"/><rect x="429.3" y="922.1" width="17.8" height="4.2" fill="#d98f56"/><rect x="446.9" y="922.1" width="3.9" height="4.2" fill="#b07a55"/><rect x="450.6" y="922.1" width="7.6" height="4.2" fill="#b07a55"/><rect x="458.0" y="922.1" width="17.8" height="4.2" fill="#d98f56"/><rect x="475.6" y="922.1" width="3.9" height="4.2" fill="#c9864f"/><rect x="479.3" y="922.1" width="15.8" height="4.2" fill="#d98f56"/><rect x="404.3" y="926.1" width="4.8" height="4.2" fill="#262c2b"/><rect x="408.9" y="926.1" width="4.8" height="4.2" fill="#4c5653"/><rect x="413.5" y="926.1" width="4.3" height="4.2" fill="#a0abbc"/><rect x="417.7" y="926.1" width="4.3" height="4.2" fill="#56615e"/><rect x="421.9" y="926.1" width="4.3" height="4.2" fill="#3a221c"/><rect x="426.0" y="926.1" width="28.4" height="4.2" fill="#9c6a50"/><rect x="454.3" y="926.1" width="4.8" height="4.2" fill="#7d4a3c"/><rect x="458.9" y="926.1" width="16.8" height="4.2" fill="#d98f56"/><rect x="475.6" y="926.1" width="3.9" height="4.2" fill="#b07a55"/><rect x="479.3" y="926.1" width="8.5" height="4.2" fill="#d98f56"/><rect x="487.7" y="926.1" width="5.7" height="4.2" fill="#b07a55"/><rect x="493.2" y="926.1" width="1.9" height="4.2" fill="#d98f56"/><rect x="404.3" y="930.2" width="4.8" height="4.2" fill="#262c2b"/><rect x="408.9" y="930.2" width="4.8" height="4.2" fill="#56615e"/><rect x="413.5" y="930.2" width="4.3" height="4.2" fill="#a0abbc"/><rect x="417.7" y="930.2" width="4.3" height="4.2" fill="#56615e"/><rect x="421.9" y="930.2" width="4.3" height="4.2" fill="#3a221c"/><rect x="426.0" y="930.2" width="28.4" height="4.2" fill="#9c6a50"/><rect x="454.3" y="930.2" width="4.8" height="4.2" fill="#7d4a3c"/><rect x="458.9" y="930.2" width="4.8" height="4.2" fill="#b07a55"/><rect x="463.6" y="930.2" width="12.2" height="4.2" fill="#d98f56"/><rect x="475.6" y="930.2" width="4.8" height="4.2" fill="#b07a55"/><rect x="480.3" y="930.2" width="3.9" height="4.2" fill="#d98f56"/><rect x="484.0" y="930.2" width="11.2" height="4.2" fill="#b07a55"/><rect x="404.3" y="934.3" width="4.8" height="4.2" fill="#262c2b"/><rect x="408.9" y="934.3" width="9.0" height="4.2" fill="#56615e"/><rect x="417.7" y="934.3" width="4.3" height="4.2" fill="#3a4341"/><rect x="421.9" y="934.3" width="4.3" height="4.2" fill="#3a221c"/><rect x="426.0" y="934.3" width="7.1" height="4.2" fill="#94694d"/><rect x="433.0" y="934.3" width="21.5" height="4.2" fill="#9c6a50"/><rect x="454.3" y="934.3" width="4.8" height="4.2" fill="#7d4a3c"/><rect x="458.9" y="934.3" width="8.5" height="4.2" fill="#a8754f"/><rect x="467.3" y="934.3" width="11.3" height="4.2" fill="#b07a55"/><rect x="478.4" y="934.3" width="16.7" height="4.2" fill="#a8754f"/><rect x="404.3" y="938.4" width="4.8" height="4.2" fill="#262c2b"/><rect x="408.9" y="938.4" width="9.0" height="4.2" fill="#56615e"/><rect x="417.7" y="938.4" width="4.3" height="4.2" fill="#3a4341"/><rect x="421.9" y="938.4" width="4.3" height="4.2" fill="#3a221c"/><rect x="426.0" y="938.4" width="12.7" height="4.2" fill="#94694d"/><rect x="438.6" y="938.4" width="12.2" height="4.2" fill="#9c6a50"/><rect x="450.6" y="938.4" width="13.1" height="4.2" fill="#7d4a3c"/><rect x="463.6" y="938.4" width="20.5" height="4.2" fill="#a8754f"/><rect x="484.0" y="938.4" width="3.9" height="4.2" fill="#8a5545"/><rect x="487.7" y="938.4" width="7.5" height="4.2" fill="#a8754f"/><rect x="404.3" y="942.5" width="4.8" height="4.2" fill="#262c2b"/><rect x="408.9" y="942.5" width="9.0" height="4.2" fill="#56615e"/><rect x="417.7" y="942.5" width="4.3" height="4.2" fill="#3a4341"/><rect x="421.9" y="942.5" width="4.3" height="4.2" fill="#3a221c"/><rect x="426.0" y="942.5" width="7.1" height="4.2" fill="#94694d"/><rect x="433.0" y="942.5" width="17.8" height="4.2" fill="#9c6a50"/><rect x="450.6" y="942.5" width="4.8" height="4.2" fill="#7d4a3c"/><rect x="455.2" y="942.5" width="8.5" height="4.2" fill="#5a4030"/><rect x="463.6" y="942.5" width="20.5" height="4.2" fill="#a8754f"/><rect x="484.0" y="942.5" width="3.9" height="4.2" fill="#8a5545"/><rect x="487.7" y="942.5" width="7.5" height="4.2" fill="#a8754f"/><rect x="404.3" y="946.5" width="4.8" height="4.2" fill="#262c2b"/><rect x="408.9" y="946.5" width="4.8" height="4.2" fill="#4c5653"/><rect x="413.5" y="946.5" width="4.3" height="4.2" fill="#56615e"/><rect x="417.7" y="946.5" width="7.1" height="4.2" fill="#2f3634"/><rect x="424.7" y="946.5" width="1.5" height="4.2" fill="#3a221c"/><rect x="426.0" y="946.5" width="7.1" height="4.2" fill="#94694d"/><rect x="433.0" y="946.5" width="14.1" height="4.2" fill="#a8754f"/><rect x="446.9" y="946.5" width="3.9" height="4.2" fill="#94694d"/><rect x="450.6" y="946.5" width="4.8" height="4.2" fill="#7d4a3c"/><rect x="455.2" y="946.5" width="8.5" height="4.2" fill="#4a3426"/><rect x="463.6" y="946.5" width="3.9" height="4.2" fill="#7d4a3c"/><rect x="467.3" y="946.5" width="21.5" height="4.2" fill="#7d6a4a"/><rect x="488.6" y="946.5" width="6.5" height="4.2" fill="#a8754f"/><rect x="408.9" y="950.6" width="4.8" height="4.2" fill="#2f3634"/><rect x="413.5" y="950.6" width="4.3" height="4.2" fill="#56615e"/><rect x="417.7" y="950.6" width="7.1" height="4.2" fill="#2f3634"/><rect x="424.7" y="950.6" width="1.5" height="4.2" fill="#3a221c"/><rect x="426.0" y="950.6" width="7.1" height="4.2" fill="#a8754f"/><rect x="433.0" y="950.6" width="10.3" height="4.2" fill="#a8754f"/><rect x="443.2" y="950.6" width="7.6" height="4.2" fill="#94694d"/><rect x="450.6" y="950.6" width="3.9" height="4.2" fill="#7d4a3c"/><rect x="454.3" y="950.6" width="9.4" height="4.2" fill="#3a221c"/><rect x="463.6" y="950.6" width="11.3" height="4.2" fill="#8a5545"/><rect x="474.7" y="950.6" width="14.1" height="4.2" fill="#4a3426"/><rect x="488.6" y="950.6" width="3.9" height="4.2" fill="#3a221c"/><rect x="492.3" y="950.6" width="2.8" height="4.2" fill="#d98f56"/><rect x="408.9" y="954.7" width="4.8" height="4.2" fill="#2f3634"/><rect x="413.5" y="954.7" width="4.3" height="4.2" fill="#56615e"/><rect x="417.7" y="954.7" width="7.1" height="4.2" fill="#2f3634"/><rect x="424.7" y="954.7" width="1.5" height="4.2" fill="#3a221c"/><rect x="426.0" y="954.7" width="3.4" height="4.2" fill="#a8754f"/><rect x="429.3" y="954.7" width="9.4" height="4.2" fill="#94694d"/><rect x="438.6" y="954.7" width="4.8" height="4.2" fill="#a8754f"/><rect x="443.2" y="954.7" width="7.6" height="4.2" fill="#94694d"/><rect x="450.6" y="954.7" width="3.9" height="4.2" fill="#7d4a3c"/><rect x="454.3" y="954.7" width="9.4" height="4.2" fill="#3a221c"/><rect x="463.6" y="954.7" width="25.2" height="4.2" fill="#4a3426"/><rect x="488.6" y="954.7" width="3.9" height="4.2" fill="#3a221c"/><rect x="492.3" y="954.7" width="2.8" height="4.2" fill="#d98f56"/><rect x="408.9" y="958.8" width="4.8" height="4.2" fill="#2f3634"/><rect x="413.5" y="958.8" width="4.3" height="4.2" fill="#56615e"/><rect x="417.7" y="958.8" width="4.3" height="4.2" fill="#2f3634"/><rect x="421.9" y="958.8" width="7.6" height="4.2" fill="#2a1a16"/><rect x="429.3" y="958.8" width="17.8" height="4.2" fill="#94694d"/><rect x="446.9" y="958.8" width="3.9" height="4.2" fill="#8a5545"/><rect x="450.6" y="958.8" width="13.1" height="4.2" fill="#3a221c"/><rect x="467.3" y="958.8" width="27.9" height="4.2" fill="#3a221c"/><rect x="408.9" y="962.8" width="9.0" height="4.2" fill="#3a4341"/><rect x="421.9" y="962.8" width="7.6" height="4.2" fill="#2a1a16"/><rect x="429.3" y="962.8" width="17.8" height="4.2" fill="#94694d"/><rect x="446.9" y="962.8" width="3.9" height="4.2" fill="#8a5545"/><rect x="450.6" y="962.8" width="9.4" height="4.2" fill="#3a221c"/><rect x="492.3" y="962.8" width="2.8" height="4.2" fill="#3a221c"/><rect x="408.9" y="966.9" width="9.0" height="4.2" fill="#262c2b"/><rect x="424.7" y="966.9" width="4.8" height="4.2" fill="#3a221c"/><rect x="429.3" y="966.9" width="13.1" height="4.2" fill="#94694d"/><rect x="442.3" y="966.9" width="4.8" height="4.2" fill="#8a5545"/><rect x="446.9" y="966.9" width="13.1" height="4.2" fill="#3a221c"/><rect x="492.3" y="966.9" width="2.8" height="4.2" fill="#3a221c"/><rect x="424.7" y="971.0" width="4.8" height="4.2" fill="#3a221c"/><rect x="429.3" y="971.0" width="9.4" height="4.2" fill="#e8924f"/><rect x="438.6" y="971.0" width="3.9" height="4.2" fill="#b07a55"/><rect x="442.3" y="971.0" width="2.9" height="4.2" fill="#8a5545"/><rect x="445.0" y="971.0" width="14.1" height="4.2" fill="#3a221c"/><rect x="424.7" y="975.1" width="4.8" height="4.2" fill="#3a221c"/><rect x="429.3" y="975.1" width="9.4" height="4.2" fill="#e8924f"/><rect x="438.6" y="975.1" width="2.9" height="4.2" fill="#b07a55"/><rect x="441.3" y="975.1" width="13.1" height="4.2" fill="#3a221c"/><rect x="424.7" y="979.2" width="4.8" height="4.2" fill="#3a221c"/><rect x="429.3" y="979.2" width="5.7" height="4.2" fill="#d98f56"/><rect x="434.9" y="979.2" width="3.9" height="4.2" fill="#b07a55"/><rect x="438.6" y="979.2" width="8.5" height="4.2" fill="#3a221c"/><rect x="446.9" y="979.2" width="7.6" height="4.2" fill="#5a4030"/><rect x="454.3" y="979.2" width="3.9" height="4.2" fill="#3a221c"/><rect x="421.9" y="983.2" width="3.9" height="4.2" fill="#3a221c"/><rect x="425.6" y="983.2" width="3.9" height="4.2" fill="#8a5545"/><rect x="429.3" y="983.2" width="4.8" height="4.2" fill="#b07a55"/><rect x="433.9" y="983.2" width="13.1" height="4.2" fill="#3a221c"/><rect x="446.9" y="983.2" width="5.7" height="4.2" fill="#5a4030"/><rect x="452.5" y="983.2" width="2.9" height="4.2" fill="#3a221c"/><rect x="421.9" y="987.3" width="3.9" height="4.2" fill="#3a221c"/><rect x="425.6" y="987.3" width="7.6" height="4.2" fill="#b07a55"/><rect x="433.0" y="987.3" width="14.1" height="4.2" fill="#3a221c"/><rect x="446.9" y="987.3" width="3.9" height="4.2" fill="#5a4030"/><rect x="450.6" y="987.3" width="3.9" height="4.2" fill="#3a221c"/><rect x="421.9" y="991.4" width="3.9" height="3.8" fill="#3a221c"/><rect x="425.6" y="991.4" width="7.6" height="3.8" fill="#b07a55"/><rect x="433.0" y="991.4" width="14.1" height="3.8" fill="#3a221c"/><rect x="446.9" y="991.4" width="3.9" height="3.8" fill="#5a4030"/><rect x="450.6" y="991.4" width="3.9" height="3.8" fill="#3a221c"/><rect x="421.8" y="994.9" width="3.9" height="4.3" fill="#3a221c"/><rect x="425.5" y="994.9" width="4.3" height="4.3" fill="#a8754f"/><rect x="429.7" y="994.9" width="3.9" height="4.3" fill="#3a221c"/><rect x="438.0" y="994.9" width="8.5" height="4.3" fill="#3a221c"/><rect x="446.3" y="994.9" width="4.3" height="4.3" fill="#6b5038"/><rect x="450.5" y="994.9" width="4.3" height="4.3" fill="#3a221c"/><rect x="421.8" y="999.1" width="3.9" height="6.6" fill="#3a221c"/><rect x="425.5" y="999.1" width="4.3" height="6.6" fill="#a8754f"/><rect x="429.7" y="999.1" width="3.9" height="6.6" fill="#3a221c"/><rect x="438.0" y="999.1" width="8.5" height="6.6" fill="#3a221c"/><rect x="446.3" y="999.1" width="4.3" height="6.6" fill="#6b5038"/><rect x="450.5" y="999.1" width="4.3" height="6.6" fill="#3a221c"/><rect x="421.8" y="1005.6" width="3.9" height="5.7" fill="#3a221c"/><rect x="425.5" y="1005.6" width="4.3" height="5.7" fill="#a8754f"/><rect x="429.7" y="1005.6" width="3.9" height="5.7" fill="#3a221c"/><rect x="438.0" y="1005.6" width="4.3" height="5.7" fill="#3a221c"/><rect x="442.2" y="1005.6" width="8.5" height="5.7" fill="#6b5038"/><rect x="450.5" y="1005.6" width="4.3" height="5.7" fill="#3a221c"/><rect x="421.8" y="1011.2" width="3.9" height="3.9" fill="#3a221c"/><rect x="425.5" y="1011.2" width="4.3" height="3.9" fill="#a8754f"/><rect x="429.7" y="1011.2" width="3.9" height="3.9" fill="#3a221c"/><rect x="438.0" y="1011.2" width="8.5" height="3.9" fill="#3a221c"/><rect x="446.3" y="1011.2" width="4.3" height="3.9" fill="#6b5038"/><rect x="450.5" y="1011.2" width="4.3" height="3.9" fill="#3a221c"/><rect x="417.6" y="1014.9" width="4.3" height="7.6" fill="#7d4a3c"/><rect x="421.8" y="1014.9" width="3.9" height="7.6" fill="#9a6048"/><rect x="425.5" y="1014.9" width="4.3" height="7.6" fill="#a8754f"/><rect x="429.7" y="1014.9" width="3.9" height="7.6" fill="#3a221c"/><rect x="442.2" y="1014.9" width="4.3" height="7.6" fill="#3a221c"/><rect x="446.3" y="1014.9" width="8.5" height="7.6" fill="#6b5038"/><rect x="421.8" y="1022.3" width="3.9" height="8.5" fill="#3a221c"/><rect x="425.5" y="1022.3" width="4.3" height="8.5" fill="#8a5545"/><rect x="429.7" y="1022.3" width="3.9" height="8.5" fill="#3a221c"/><rect x="442.2" y="1022.3" width="4.3" height="8.5" fill="#3a221c"/><rect x="446.3" y="1022.3" width="8.5" height="8.5" fill="#6b5038"/><rect x="454.7" y="1022.3" width="1.1" height="8.5" fill="#3a221c"/><rect x="421.8" y="1030.6" width="3.4" height="4.8" fill="#3a221c"/><rect x="425.0" y="1030.6" width="8.5" height="4.8" fill="#c8c8d0"/><rect x="433.4" y="1030.6" width="4.8" height="4.8" fill="#5a4030"/><rect x="438.0" y="1030.6" width="4.3" height="4.8" fill="#3a221c"/><rect x="442.2" y="1030.6" width="4.3" height="4.8" fill="#5a4030"/><rect x="446.3" y="1030.6" width="8.5" height="4.8" fill="#8a90a8"/><rect x="454.7" y="1030.6" width="3.9" height="4.8" fill="#5a4030"/><rect x="495.6" y="897.6" width="5.7" height="4.2" fill="#2f3634"/><rect x="501.1" y="897.6" width="8.5" height="4.2" fill="#4c5653"/><rect x="509.5" y="897.6" width="3.9" height="4.2" fill="#3a221c"/><rect x="513.2" y="897.6" width="8.5" height="4.2" fill="#b07a55"/><rect x="521.5" y="897.6" width="13.1" height="4.2" fill="#8a5545"/><rect x="534.5" y="897.6" width="12.2" height="4.2" fill="#3a221c"/><rect x="546.5" y="897.6" width="3.9" height="4.2" fill="#5a4030"/><rect x="550.2" y="897.6" width="9.4" height="4.2" fill="#9a6048"/><rect x="559.5" y="897.6" width="4.8" height="4.2" fill="#3a221c"/><rect x="564.1" y="897.6" width="3.9" height="4.2" fill="#9a6048"/><rect x="567.8" y="897.6" width="7.6" height="4.2" fill="#4a3426"/><rect x="491.9" y="901.7" width="3.9" height="4.2" fill="#2f3634"/><rect x="495.6" y="901.7" width="4.8" height="4.2" fill="#56615e"/><rect x="500.2" y="901.7" width="8.5" height="4.2" fill="#2f3634"/><rect x="508.5" y="901.7" width="9.4" height="4.2" fill="#b07a55"/><rect x="517.8" y="901.7" width="3.9" height="4.2" fill="#9a6048"/><rect x="521.5" y="901.7" width="8.5" height="4.2" fill="#a8754f"/><rect x="529.9" y="901.7" width="4.8" height="4.2" fill="#6b5038"/><rect x="534.5" y="901.7" width="4.8" height="4.2" fill="#3a221c"/><rect x="546.5" y="901.7" width="17.8" height="4.2" fill="#3a221c"/><rect x="564.1" y="901.7" width="7.6" height="4.2" fill="#5a4030"/><rect x="571.6" y="901.7" width="3.9" height="4.2" fill="#3a221c"/><rect x="491.9" y="905.8" width="3.9" height="4.2" fill="#262c2b"/><rect x="495.6" y="905.8" width="4.8" height="4.2" fill="#7d8c88"/><rect x="500.2" y="905.8" width="4.8" height="4.2" fill="#2f3634"/><rect x="504.8" y="905.8" width="13.1" height="4.2" fill="#b07a55"/><rect x="517.8" y="905.8" width="12.2" height="4.2" fill="#a8754f"/><rect x="529.9" y="905.8" width="4.8" height="4.2" fill="#6b5038"/><rect x="534.5" y="905.8" width="4.8" height="4.2" fill="#3a221c"/><rect x="554.9" y="905.8" width="16.8" height="4.2" fill="#3a221c"/><rect x="490.0" y="909.8" width="15.0" height="4.2" fill="#3a221c"/><rect x="504.8" y="909.8" width="25.2" height="4.2" fill="#b07a55"/><rect x="529.9" y="909.8" width="4.8" height="4.2" fill="#3a221c"/><rect x="534.5" y="909.8" width="4.8" height="4.2" fill="#3a221c"/><rect x="490.0" y="913.9" width="10.3" height="4.2" fill="#8a5545"/><rect x="500.2" y="913.9" width="4.8" height="4.2" fill="#b07a55"/><rect x="504.8" y="913.9" width="20.5" height="4.2" fill="#b07a55"/><rect x="525.2" y="913.9" width="4.8" height="4.2" fill="#8a5545"/><rect x="529.9" y="913.9" width="4.8" height="4.2" fill="#3a221c"/><rect x="490.0" y="918.0" width="19.6" height="4.2" fill="#d98f56"/><rect x="509.5" y="918.0" width="8.5" height="4.2" fill="#b07a55"/><rect x="517.8" y="918.0" width="7.6" height="4.2" fill="#a8754f"/><rect x="525.2" y="918.0" width="4.8" height="4.2" fill="#8a5545"/><rect x="529.9" y="918.0" width="4.8" height="4.2" fill="#3a221c"/><rect x="490.0" y="922.1" width="19.6" height="4.2" fill="#d98f56"/><rect x="509.5" y="922.1" width="8.5" height="4.2" fill="#b07a55"/><rect x="517.8" y="922.1" width="3.9" height="4.2" fill="#9a6048"/><rect x="521.5" y="922.1" width="4.8" height="4.2" fill="#a8754f"/><rect x="526.1" y="922.1" width="3.9" height="4.2" fill="#6b5038"/><rect x="529.9" y="922.1" width="4.8" height="4.2" fill="#3a221c"/><rect x="490.0" y="926.1" width="3.9" height="4.2" fill="#c9864f"/><rect x="493.7" y="926.1" width="15.9" height="4.2" fill="#d98f56"/><rect x="509.5" y="926.1" width="3.9" height="4.2" fill="#e8924f"/><rect x="513.2" y="926.1" width="4.8" height="4.2" fill="#b07a55"/><rect x="517.8" y="926.1" width="3.9" height="4.2" fill="#9a6048"/><rect x="521.5" y="926.1" width="4.8" height="4.2" fill="#a8754f"/><rect x="526.1" y="926.1" width="3.9" height="4.2" fill="#6b5038"/><rect x="529.9" y="926.1" width="4.8" height="4.2" fill="#3a221c"/><rect x="490.0" y="930.2" width="3.9" height="4.2" fill="#c9864f"/><rect x="493.7" y="930.2" width="19.6" height="4.2" fill="#d98f56"/><rect x="513.2" y="930.2" width="8.5" height="4.2" fill="#b07a55"/><rect x="521.5" y="930.2" width="4.8" height="4.2" fill="#8a5545"/><rect x="526.1" y="930.2" width="3.9" height="4.2" fill="#6b5038"/><rect x="529.9" y="930.2" width="4.8" height="4.2" fill="#3a221c"/><rect x="490.0" y="934.3" width="3.9" height="4.2" fill="#c9864f"/><rect x="493.7" y="934.3" width="15.9" height="4.2" fill="#d98f56"/><rect x="509.5" y="934.3" width="12.2" height="4.2" fill="#b07a55"/><rect x="521.5" y="934.3" width="4.8" height="4.2" fill="#8a5545"/><rect x="526.1" y="934.3" width="3.9" height="4.2" fill="#6b5038"/><rect x="529.9" y="934.3" width="4.8" height="4.2" fill="#3a221c"/><rect x="490.0" y="938.4" width="5.7" height="4.2" fill="#a8754f"/><rect x="495.6" y="938.4" width="14.1" height="4.2" fill="#d98f56"/><rect x="509.5" y="938.4" width="12.2" height="4.2" fill="#b07a55"/><rect x="521.5" y="938.4" width="4.8" height="4.2" fill="#8a5545"/><rect x="526.1" y="938.4" width="3.9" height="4.2" fill="#6b5038"/><rect x="529.9" y="938.4" width="4.8" height="4.2" fill="#3a221c"/><rect x="490.0" y="942.5" width="23.3" height="4.2" fill="#a8754f"/><rect x="513.2" y="942.5" width="4.8" height="4.2" fill="#94694d"/><rect x="517.8" y="942.5" width="3.9" height="4.2" fill="#b07a55"/><rect x="521.5" y="942.5" width="4.8" height="4.2" fill="#8a5545"/><rect x="526.1" y="942.5" width="8.5" height="4.2" fill="#3a221c"/><rect x="490.0" y="946.5" width="10.3" height="4.2" fill="#8a7050"/><rect x="500.2" y="946.5" width="9.4" height="4.2" fill="#b07a55"/><rect x="509.5" y="946.5" width="12.2" height="4.2" fill="#94694d"/><rect x="521.5" y="946.5" width="4.8" height="4.2" fill="#a8754f"/><rect x="526.1" y="946.5" width="3.9" height="4.2" fill="#5a4030"/><rect x="529.9" y="946.5" width="4.8" height="4.2" fill="#3a221c"/><rect x="490.0" y="950.6" width="2.0" height="4.2" fill="#8a5545"/><rect x="491.9" y="950.6" width="21.5" height="4.2" fill="#b07a55"/><rect x="513.2" y="950.6" width="8.5" height="4.2" fill="#94694d"/><rect x="521.5" y="950.6" width="4.8" height="4.2" fill="#3a221c"/><rect x="526.1" y="950.6" width="3.9" height="4.2" fill="#5a4030"/><rect x="529.9" y="950.6" width="4.8" height="4.2" fill="#3a221c"/><rect x="490.0" y="954.7" width="2.0" height="4.2" fill="#3a221c"/><rect x="491.9" y="954.7" width="29.8" height="4.2" fill="#b07a55"/><rect x="521.5" y="954.7" width="4.8" height="4.2" fill="#3a221c"/><rect x="526.1" y="954.7" width="3.9" height="4.2" fill="#5a4030"/><rect x="529.9" y="954.7" width="4.8" height="4.2" fill="#3a221c"/><rect x="490.0" y="958.8" width="5.7" height="4.2" fill="#3a221c"/><rect x="495.6" y="958.8" width="22.4" height="4.2" fill="#b07a55"/><rect x="517.8" y="958.8" width="8.5" height="4.2" fill="#3a221c"/><rect x="526.1" y="958.8" width="3.9" height="4.2" fill="#5a4030"/><rect x="529.9" y="958.8" width="4.8" height="4.2" fill="#3a221c"/><rect x="491.9" y="962.8" width="4.8" height="4.2" fill="#3a221c"/><rect x="496.5" y="962.8" width="7.6" height="4.2" fill="#94694d"/><rect x="503.9" y="962.8" width="14.1" height="4.2" fill="#b07a55"/><rect x="517.8" y="962.8" width="12.2" height="4.2" fill="#3a221c"/><rect x="491.9" y="966.9" width="8.5" height="4.2" fill="#3a221c"/><rect x="500.2" y="966.9" width="14.1" height="4.2" fill="#b07a55"/><rect x="514.1" y="966.9" width="3.9" height="4.2" fill="#8a5545"/><rect x="517.8" y="966.9" width="12.2" height="4.2" fill="#3a221c"/><rect x="495.6" y="971.0" width="4.8" height="4.2" fill="#3a221c"/><rect x="500.2" y="971.0" width="9.4" height="4.2" fill="#b07a55"/><rect x="509.5" y="971.0" width="4.8" height="4.2" fill="#8a5545"/><rect x="514.1" y="971.0" width="7.6" height="4.2" fill="#3a221c"/><rect x="521.5" y="971.0" width="4.8" height="4.2" fill="#5a4030"/><rect x="526.1" y="971.0" width="3.9" height="4.2" fill="#3a221c"/><rect x="495.6" y="975.1" width="4.8" height="4.2" fill="#3a221c"/><rect x="500.2" y="975.1" width="3.9" height="4.2" fill="#9a6048"/><rect x="503.9" y="975.1" width="5.7" height="4.2" fill="#b07a55"/><rect x="509.5" y="975.1" width="4.8" height="4.2" fill="#8a5545"/><rect x="514.1" y="975.1" width="7.6" height="4.2" fill="#3a221c"/><rect x="521.5" y="975.1" width="4.8" height="4.2" fill="#5a4030"/><rect x="526.1" y="975.1" width="3.9" height="4.2" fill="#3a221c"/><rect x="495.6" y="979.2" width="4.8" height="4.2" fill="#3a221c"/><rect x="500.2" y="979.2" width="3.9" height="4.2" fill="#9a6048"/><rect x="503.9" y="979.2" width="5.7" height="4.2" fill="#b07a55"/><rect x="509.5" y="979.2" width="3.9" height="4.2" fill="#8a5545"/><rect x="513.2" y="979.2" width="4.8" height="4.2" fill="#3a221c"/><rect x="517.8" y="979.2" width="8.5" height="4.2" fill="#5a4030"/><rect x="526.1" y="979.2" width="2.9" height="4.2" fill="#3a221c"/><rect x="495.6" y="983.2" width="4.8" height="4.2" fill="#3a221c"/><rect x="500.2" y="983.2" width="3.9" height="4.2" fill="#a8754f"/><rect x="503.9" y="983.2" width="9.4" height="4.2" fill="#b07a55"/><rect x="513.2" y="983.2" width="4.8" height="4.2" fill="#3a221c"/><rect x="517.8" y="983.2" width="8.5" height="4.2" fill="#5a4030"/><rect x="526.1" y="983.2" width="2.9" height="4.2" fill="#3a221c"/><rect x="499.3" y="987.3" width="4.8" height="4.2" fill="#3a221c"/><rect x="503.9" y="987.3" width="5.7" height="4.2" fill="#b07a55"/><rect x="509.5" y="987.3" width="3.9" height="4.2" fill="#6b5038"/><rect x="513.2" y="987.3" width="4.8" height="4.2" fill="#3a221c"/><rect x="517.8" y="987.3" width="7.6" height="4.2" fill="#5a4030"/><rect x="525.2" y="987.3" width="2.0" height="4.2" fill="#3a221c"/><rect x="499.3" y="991.4" width="4.8" height="3.8" fill="#3a221c"/><rect x="503.9" y="991.4" width="5.7" height="3.8" fill="#b07a55"/><rect x="509.5" y="991.4" width="3.9" height="3.8" fill="#6b5038"/><rect x="513.2" y="991.4" width="4.8" height="3.8" fill="#3a221c"/><rect x="517.8" y="991.4" width="7.6" height="3.8" fill="#5a4030"/><rect x="525.2" y="991.4" width="2.0" height="3.8" fill="#3a221c"/><rect x="495.6" y="893.1" width="9.4" height="4.6" fill="#2f3634"/><rect x="504.8" y="893.1" width="4.8" height="4.6" fill="#4c5653"/><rect x="509.5" y="893.1" width="3.9" height="4.6" fill="#2f3634"/><rect x="513.2" y="893.1" width="8.5" height="4.6" fill="#b07a55"/><rect x="521.5" y="893.1" width="4.3" height="4.6" fill="#8a5545"/><rect x="500.2" y="994.9" width="4.3" height="3.4" fill="#3a221c"/><rect x="504.4" y="994.9" width="5.7" height="3.4" fill="#a8754f"/><rect x="509.9" y="994.9" width="4.3" height="3.4" fill="#6b5038"/><rect x="517.8" y="994.9" width="4.3" height="3.4" fill="#5a4030"/><rect x="522.0" y="994.9" width="4.3" height="3.4" fill="#3a221c"/><rect x="500.2" y="998.2" width="4.3" height="8.5" fill="#3a221c"/><rect x="504.4" y="998.2" width="5.7" height="8.5" fill="#a8754f"/><rect x="509.9" y="998.2" width="4.3" height="8.5" fill="#3a221c"/><rect x="517.8" y="998.2" width="4.3" height="8.5" fill="#5a4030"/><rect x="522.0" y="998.2" width="4.3" height="8.5" fill="#3a221c"/><rect x="500.2" y="1006.5" width="4.3" height="4.8" fill="#3a221c"/><rect x="504.4" y="1006.5" width="5.7" height="4.8" fill="#a8754f"/><rect x="509.9" y="1006.5" width="4.3" height="4.8" fill="#3a221c"/><rect x="517.8" y="1006.5" width="8.5" height="4.8" fill="#3a221c"/><rect x="500.2" y="1011.2" width="4.3" height="11.3" fill="#3a221c"/><rect x="504.4" y="1011.2" width="5.7" height="11.3" fill="#8a5545"/><rect x="509.9" y="1011.2" width="4.3" height="11.3" fill="#3a221c"/><rect x="517.8" y="1011.2" width="8.5" height="11.3" fill="#3a221c"/><rect x="500.2" y="1022.3" width="4.3" height="8.5" fill="#3a221c"/><rect x="504.4" y="1022.3" width="5.7" height="8.5" fill="#8a5545"/><rect x="509.9" y="1022.3" width="20.1" height="8.5" fill="#3a221c"/><rect x="500.2" y="1030.6" width="3.9" height="4.8" fill="#3a221c"/><rect x="503.9" y="1030.6" width="9.4" height="4.8" fill="#c8c8d0"/><rect x="513.2" y="1030.6" width="4.8" height="4.8" fill="#8a90a8"/><rect x="517.8" y="1030.6" width="8.0" height="4.8" fill="#3a221c"/><rect x="525.7" y="1030.6" width="4.3" height="4.8" fill="#8a90a8"/><rect x="529.9" y="1030.6" width="4.8" height="4.8" fill="#5a4030"/><rect x="517.3" y="867.6" width="4.3" height="4.3" fill="#2f3634"/><rect x="513.2" y="871.8" width="4.8" height="4.3" fill="#2f3634"/><rect x="517.8" y="871.8" width="3.9" height="4.3" fill="#4c5653"/><rect x="521.5" y="871.8" width="4.3" height="4.3" fill="#3a221c"/><rect x="509.5" y="875.9" width="3.9" height="4.3" fill="#2f3634"/><rect x="513.2" y="875.9" width="4.8" height="4.3" fill="#a0abbc"/><rect x="517.8" y="875.9" width="8.0" height="4.3" fill="#56615e"/><rect x="504.8" y="880.1" width="8.5" height="4.3" fill="#2f3634"/><rect x="513.2" y="880.1" width="4.8" height="4.3" fill="#a0abbc"/><rect x="517.8" y="880.1" width="3.9" height="4.3" fill="#56615e"/><rect x="521.5" y="880.1" width="4.3" height="4.3" fill="#2f3634"/><rect x="504.8" y="884.3" width="4.8" height="4.3" fill="#2f3634"/><rect x="509.5" y="884.3" width="8.5" height="4.3" fill="#4c5653"/><rect x="517.8" y="884.3" width="3.9" height="4.3" fill="#2f3634"/><rect x="521.5" y="884.3" width="4.3" height="4.3" fill="#3a221c"/><rect x="500.7" y="888.5" width="9.0" height="4.3" fill="#2f3634"/><rect x="509.5" y="888.5" width="3.9" height="4.3" fill="#4c5653"/><rect x="513.2" y="888.5" width="4.8" height="4.3" fill="#2f3634"/><rect x="517.8" y="888.5" width="3.9" height="4.3" fill="#3a221c"/><rect x="521.5" y="888.5" width="4.3" height="4.3" fill="#9c6a50"/><rect x="500.7" y="892.6" width="4.3" height="2.5" fill="#2f3634"/><rect x="504.8" y="892.6" width="4.8" height="2.5" fill="#66716e"/><rect x="509.5" y="892.6" width="3.9" height="2.5" fill="#2f3634"/><rect x="513.2" y="892.6" width="4.8" height="2.5" fill="#8a5545"/><rect x="517.8" y="892.6" width="8.0" height="2.5" fill="#b07a55"/><rect x="517.6" y="856.2" width="12.5" height="3.8" fill="#3a221c"/><rect x="538.7" y="856.2" width="16.0" height="3.8" fill="#2f3634"/><rect x="517.6" y="859.9" width="4.0" height="4.2" fill="#3a221c"/><rect x="521.5" y="859.9" width="8.3" height="4.2" fill="#f0b478"/><rect x="529.6" y="859.9" width="9.2" height="4.2" fill="#3a221c"/><rect x="538.7" y="859.9" width="4.0" height="4.2" fill="#3a4341"/><rect x="542.6" y="859.9" width="8.6" height="4.2" fill="#a0abbc"/><rect x="551.0" y="859.9" width="3.7" height="4.2" fill="#3a4341"/><rect x="554.6" y="859.9" width="8.9" height="4.2" fill="#3a221c"/><rect x="521.5" y="864.0" width="4.4" height="4.2" fill="#3a221c"/><rect x="525.7" y="864.0" width="9.2" height="4.2" fill="#d98f56"/><rect x="534.8" y="864.0" width="4.0" height="4.2" fill="#3a221c"/><rect x="538.7" y="864.0" width="8.3" height="4.2" fill="#3a4341"/><rect x="546.8" y="864.0" width="7.9" height="4.2" fill="#262c2b"/><rect x="554.6" y="864.0" width="5.3" height="4.2" fill="#9a6048"/><rect x="559.8" y="864.0" width="3.7" height="4.2" fill="#3a221c"/><rect x="521.5" y="868.0" width="4.4" height="4.2" fill="#3a221c"/><rect x="525.7" y="868.0" width="9.2" height="4.2" fill="#d98f56"/><rect x="534.8" y="868.0" width="4.0" height="4.2" fill="#b07a55"/><rect x="538.7" y="868.0" width="4.0" height="4.2" fill="#3a4341"/><rect x="542.6" y="868.0" width="4.4" height="4.2" fill="#56615e"/><rect x="546.8" y="868.0" width="4.4" height="4.2" fill="#a0abbc"/><rect x="551.0" y="868.0" width="3.7" height="4.2" fill="#3a4341"/><rect x="554.6" y="868.0" width="5.3" height="4.2" fill="#3a221c"/><rect x="521.5" y="872.1" width="8.3" height="4.0" fill="#3a221c"/><rect x="529.6" y="872.1" width="13.1" height="4.0" fill="#b07a55"/><rect x="542.6" y="872.1" width="12.2" height="4.0" fill="#262c2b"/><rect x="554.6" y="872.1" width="5.3" height="4.0" fill="#3a221c"/><rect x="525.7" y="876.0" width="4.0" height="5.5" fill="#3a221c"/><rect x="529.6" y="876.0" width="9.2" height="5.5" fill="#b07a55"/><rect x="538.7" y="876.0" width="4.0" height="5.5" fill="#9a6048"/><rect x="542.6" y="876.0" width="7.9" height="5.5" fill="#d98f56"/><rect x="550.4" y="876.0" width="4.4" height="5.5" fill="#9a6048"/><rect x="554.6" y="876.0" width="5.3" height="5.5" fill="#3a221c"/><rect x="525.4" y="881.3" width="13.5" height="4.2" fill="#b07a55"/><rect x="538.7" y="881.3" width="4.0" height="4.2" fill="#9a6048"/><rect x="542.6" y="881.3" width="8.1" height="4.2" fill="#000000"/><rect x="550.6" y="881.3" width="9.4" height="4.2" fill="#eaa468"/><rect x="559.8" y="881.3" width="3.7" height="4.2" fill="#2a1a16"/><rect x="525.7" y="885.4" width="17.0" height="3.7" fill="#b07a55"/><rect x="542.6" y="885.4" width="7.9" height="3.7" fill="#9a6048"/><rect x="550.4" y="885.4" width="9.6" height="3.7" fill="#d98f56"/><rect x="559.8" y="885.4" width="4.0" height="3.7" fill="#3a221c"/><rect x="525.7" y="888.9" width="4.0" height="4.4" fill="#3a221c"/><rect x="529.6" y="888.9" width="21.9" height="4.4" fill="#b07a55"/><rect x="551.3" y="888.9" width="12.5" height="4.4" fill="#d98f56"/><rect x="563.7" y="888.9" width="4.0" height="4.4" fill="#3a221c"/><rect x="525.7" y="893.2" width="4.0" height="4.4" fill="#3a221c"/><rect x="529.6" y="893.2" width="5.0" height="4.4" fill="#9a6048"/><rect x="534.5" y="893.2" width="8.3" height="4.4" fill="#b07a55"/><rect x="542.6" y="893.2" width="7.9" height="4.4" fill="#a8754f"/><rect x="550.4" y="893.2" width="9.6" height="4.4" fill="#b07a55"/><rect x="559.8" y="893.2" width="7.9" height="4.4" fill="#eaa468"/><rect x="567.6" y="893.2" width="4.0" height="4.4" fill="#3a221c"/></svg>
</div></body></html>
